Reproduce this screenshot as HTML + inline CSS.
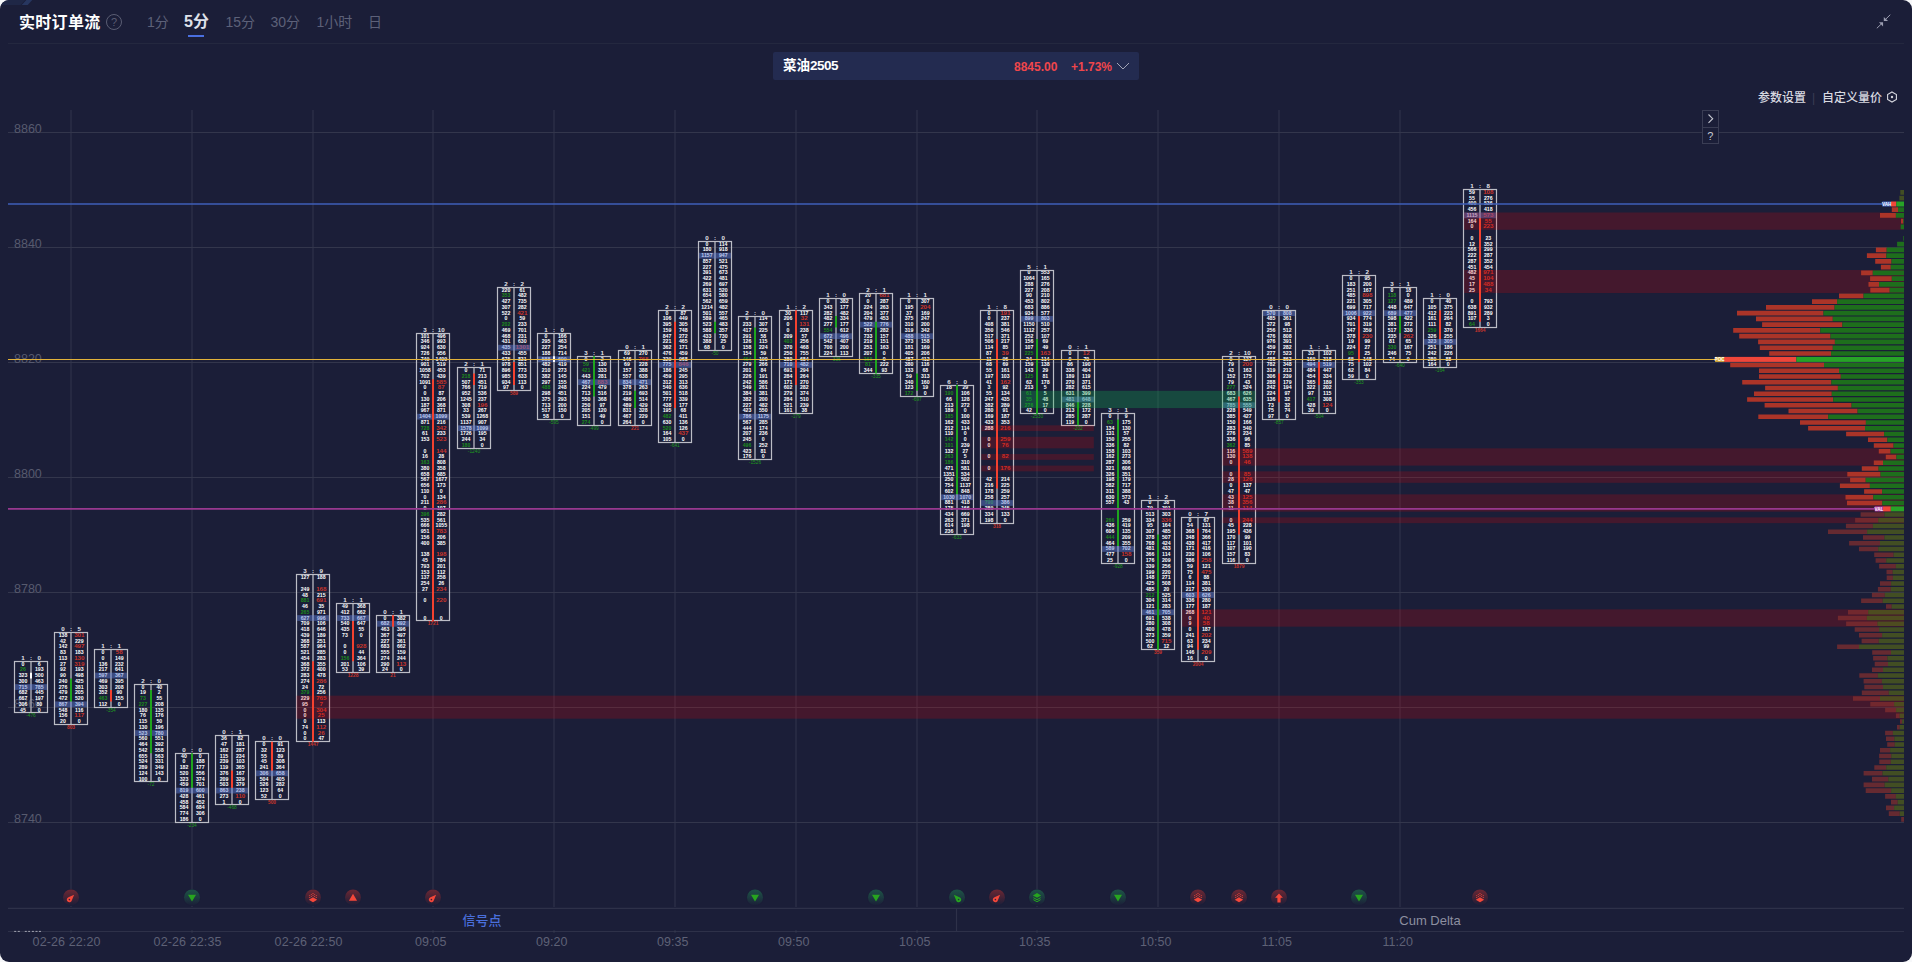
<!DOCTYPE html>
<html lang="zh-CN">
<head>
<meta charset="utf-8">
<title>实时订单流</title>
<style>
html,body{margin:0;padding:0;background:#f7f8fa;}
body{width:1912px;height:962px;overflow:hidden;font-family:"Liberation Sans","Noto Sans CJK SC",sans-serif;}
#app{position:relative;width:1912px;height:962px;background:#1b1e38;border-radius:9px;overflow:hidden;color:#fff;}
#deco{position:absolute;left:0;top:0;width:40px;height:5px;overflow:hidden;}
#deco i{position:absolute;left:-6px;top:0;width:29px;height:5px;background:#1f2746;transform:skewX(-42deg);}
#deco b{position:absolute;left:24.3px;top:0;width:5.5px;height:5px;background:#27365f;transform:skewX(-42deg);}
#head{position:absolute;left:8px;right:8px;top:0;height:43px;border-bottom:1px solid #24283f;}
#title{position:absolute;left:11px;top:11.5px;font-size:16px;font-weight:bold;line-height:22px;color:#fff;white-space:nowrap;letter-spacing:0.3px;}
#help{position:absolute;left:98px;top:14px;width:14px;height:14px;border:1px solid #5a5d73;border-radius:50%;color:#5a5d73;font-size:11px;line-height:14px;text-align:center;}
#tabs{position:absolute;left:139px;top:10px;height:24px;white-space:nowrap;font-size:14px;line-height:24px;color:#5d6179;}
#tabs span{position:absolute;top:0;}
#tabs .on{color:#dfe1ea;font-weight:bold;font-size:16px;}
#tabs .on:after{content:"";position:absolute;left:4px;right:5px;bottom:-2.5px;height:2px;background:#4a6fe0;}
#shrink{position:absolute;right:13px;top:13px;width:16px;height:16px;}
#sym{position:absolute;left:773px;top:52px;width:366px;height:28px;background:#232b50;border-radius:2px;}
#sym .nm{position:absolute;left:10px;top:0;line-height:27px;font-size:13.5px;font-weight:bold;color:#fff;}
#sym .nm b{letter-spacing:-0.5px;}
#sym .px{position:absolute;left:241px;top:0;line-height:30px;font-size:12px;font-weight:bold;color:#f0464b;}
#sym .pc{position:absolute;left:298px;top:0;line-height:30px;font-size:12px;font-weight:bold;color:#f0464b;}
#sym svg{position:absolute;left:343px;top:10px;}
#opts{position:absolute;right:14px;top:88.5px;height:18px;line-height:18px;font-size:12px;font-weight:500;color:#d8d9e0;white-space:nowrap;}
#opts span{position:absolute;top:0;}
#tools{position:absolute;left:1702px;top:110px;width:14.6px;height:31.6px;border:1px solid #3a3d54;background:#1b1e38;}
#tools div{height:16px;position:relative;}
#tools div+div{height:14.6px;}
#tools div+div{border-top:1px solid #3a3d54;}
#tools svg{position:absolute;left:0;top:0;}
#tools span{display:block;text-align:center;font-size:11px;line-height:16.5px;color:#c8c9d2;}
#chart{position:absolute;left:0;top:0;}
#chart text{font-family:"Liberation Sans",sans-serif;}
#chart .n{font-size:5.2px;font-weight:bold;fill:#fff;}
#chart .r{font-size:6.2px;font-weight:bold;fill:#e4e5ea;}
#chart .d{font-size:4.8px;}
#chart .n .r{fill:#c8352b;}
#chart .n .g{fill:#1d8a1d;}
#chart .d.r{fill:#c8352b;}
#chart .d.g{fill:#1f9a1f;}
#btabs{position:absolute;left:8px;top:909.5px;width:1896px;height:22px;font-size:13px;line-height:22px;}
#btabs div{position:absolute;top:0;width:948px;text-align:center;}
#btabs .a{left:0;color:#4a6fdc;font-weight:500;}
#btabs .b{left:948px;color:#8d8fa0;}
</style>
</head>
<body>
<div id="app">
<div id="deco"><i></i><b></b></div>
<div id="head">
<div id="title">实时订单流</div>
<div id="help">?</div>
<div id="tabs"><span style="left:0">1分</span><span class="on" style="left:37px">5分</span><span style="left:78.5px">15分</span><span style="left:123.5px">30分</span><span style="left:169.5px">1小时</span><span style="left:221px">日</span></div>
<svg id="shrink" viewBox="0 0 16 16"><g fill="#9b9db0" stroke="#9b9db0" stroke-width="1" stroke-linecap="round"><path d="M15 2L10.9 6" fill="none"/><path d="M8.8 3.9V8.05H13.1Z" stroke="none"/><path d="M2.1 15L6 11.3" fill="none"/><path d="M8.05 13.45V9.15H3.95Z" stroke="none"/></g></svg>
</div>
<div id="sym"><span class="nm">菜油<b>2505</b></span><span class="px">8845.00</span><span class="pc">+1.73%</span><svg width="14" height="8" viewBox="0 0 14 8"><path d="M1 1L7 7L13 1" fill="none" stroke="#a2a4b6" stroke-width="1"/></svg></div>
<div id="opts"><span style="right:92px">参数设置</span><span style="right:83px;color:#3a3d55;font-weight:normal">|</span><span style="right:16px">自定义量价</span><svg style="position:absolute;right:0;top:2.2px" width="12" height="12" viewBox="0 0 12 12"><path d="M6 0.9L10.4 3.45V8.55L6 11.1L1.6 8.55V3.45Z" fill="none" stroke="#d5d6de" stroke-width="1.1"/><circle cx="6" cy="6" r="1.2" fill="#d5d6de"/></svg></div>
<svg id="chart" width="1912" height="962" viewBox="0 0 1912 962">
<defs>
<linearGradient id="gr" x1="0" y1="0" x2="0" y2="1"><stop offset="0" stop-color="#6e2733"/><stop offset="0.5" stop-color="#6e2733" stop-opacity="0.5"/><stop offset="1" stop-color="#6e2733" stop-opacity="0"/></linearGradient>
<linearGradient id="gg" x1="0" y1="0" x2="0" y2="1"><stop offset="0" stop-color="#1d5446"/><stop offset="0.5" stop-color="#1d5446" stop-opacity="0.55"/><stop offset="1" stop-color="#1d5446" stop-opacity="0"/></linearGradient>
<path id="i-down" d="M-4 -2.7H4L0 4.2Z"/>
<path id="i-up" d="M-4.1 3.4H4.1L0 -3.6Z"/>
<path id="i-arrow" d="M0 -3.9L3.9 0.3H1.6V5H-1.6V0.3H-3.9Z"/>
<path id="i-meteor" fill-rule="evenodd" d="M3.1 -2.6L0.9 2.9A2.6 2.6 0 1 1 -2.5 -0.2Z M-1.6 1.4A0.8 0.8 0 1 0 -1.6 3A0.8 0.8 0 1 0 -1.6 1.4Z"/>
<g id="i-layers"><path d="M0 -0.1L4.2 2.3L0 4.8L-4.2 2.3Z"/><path d="M0 -4.35l0.95 0.55l-0.95 0.55l-0.95 -0.55ZM-1.6 -3.45l0.95 0.55l-0.95 0.55l-0.95 -0.55ZM1.6 -3.45l0.95 0.55l-0.95 0.55l-0.95 -0.55ZM0 -2.45l0.95 0.55l-0.95 0.55l-0.95 -0.55ZM-3.3 -2.45l0.95 0.55l-0.95 0.55l-0.95 -0.55ZM3.3 -2.45l0.95 0.55l-0.95 0.55l-0.95 -0.55ZM-1.6 -1.55l0.95 0.55l-0.95 0.55l-0.95 -0.55ZM1.6 -1.55l0.95 0.55l-0.95 0.55l-0.95 -0.55ZM-3.3 -0.55l0.95 0.55l-0.95 0.55l-0.95 -0.55ZM3.3 -0.55l0.95 0.55l-0.95 0.55l-0.95 -0.55Z" fill-opacity="0.85"/></g>
<g id="i-layers2"><path d="M0 -4.4L4.1 -2L0 0.4L-4.1 -2Z"/><path d="M-3.6 0.3L0 2.3L3.6 0.3M-3.6 2.3L0 4.3L3.6 2.3" fill="none" stroke="#27a51f" stroke-width="1" stroke-linejoin="round"/></g>
</defs>
<path d="M71 110V907M192 110V907M313 110V907M433 110V907M554 110V907M675 110V907M796 110V907M917 110V907M1037 110V907M1158 110V907M1279 110V907M1400 110V907" stroke="#262942" stroke-width="2" fill="none"/>
<path d="M8 132.5H1904M8 247.5H1904M8 362.5H1904M8 477.5H1904M8 592.5H1904M8 707.5H1904M8 822.5H1904" stroke="#33364c" stroke-width="1" fill="none"/>
<g id="yaxis" font-size="12.5" fill="#575a6e">
<text x="14" y="133">8860</text>
<text x="14" y="248">8840</text>
<text x="14" y="363">8820</text>
<text x="14" y="478">8800</text>
<text x="14" y="593">8780</text>
<text x="14" y="708">8760</text>
<text x="14" y="823">8740</text>
</g>
<path d="M8 908.3H1904M8 931.5H1904M956.5 908.3V931.5" stroke="#2e3149" stroke-width="1.2" fill="none"/>
<path d="M14.2 931.4h2M17.8 931.4h2M24.8 931.4h2M28.2 931.4h1.8M31.9 931.4h2M35.5 931.4h2M39 931.4h2" stroke="#c9cad3" stroke-width="0.9" stroke-opacity="0.85" fill="none"/>
<path d="M71 930.4V932.4M192 930.4V932.4M313 930.4V932.4M433 930.4V932.4M554 930.4V932.4M675 930.4V932.4M796 930.4V932.4M917 930.4V932.4M1037 930.4V932.4M1158 930.4V932.4M1279 930.4V932.4M1400 930.4V932.4" stroke="#34374e" stroke-width="1.6" fill="none"/>
<g id="xaxis" font-size="12.5" fill="#5e6176" text-anchor="middle">
<text x="66.6" y="946" letter-spacing="0.12">02-26 22:20</text>
<text x="187.6" y="946" letter-spacing="0.12">02-26 22:35</text>
<text x="308.6" y="946" letter-spacing="0.12">02-26 22:50</text>
<text x="430.7" y="946">09:05</text>
<text x="551.7" y="946">09:20</text>
<text x="672.7" y="946">09:35</text>
<text x="793.7" y="946">09:50</text>
<text x="914.7" y="946">10:05</text>
<text x="1034.7" y="946">10:35</text>
<text x="1155.7" y="946">10:50</text>
<text x="1276.7" y="946">11:05</text>
<text x="1397.7" y="946">11:20</text>
</g>
<g id="candles" text-anchor="middle">
<g><path d="M31 661.5V712.5" stroke="#9a9ba7" stroke-width="1.6"/><text class="n"><tspan x="23" y="665.85">0</tspan><tspan x="23" y="670.85" class="g">26</tspan><tspan x="23" y="676.85">323</tspan><tspan x="23" y="682.85">300</tspan><tspan x="23" y="688.85">715</tspan><tspan x="23" y="693.85">682</tspan><tspan x="23" y="699.85">667</tspan><tspan x="23" y="705.85">306</tspan><tspan x="23" y="711.85">45</tspan></text><text class="n"><tspan x="39.3" y="665.85">6</tspan><tspan x="39.3" y="670.85">193</tspan><tspan x="39.3" y="676.85">500</tspan><tspan x="39.3" y="682.85">463</tspan><tspan x="39.3" y="688.85">785</tspan><tspan x="39.3" y="693.85">445</tspan><tspan x="39.3" y="699.85">197</tspan><tspan x="39.3" y="705.85">80</tspan><tspan x="39.3" y="711.85">0</tspan></text><rect x="15.1" y="684.17" width="31.8" height="5.75" fill="#6482dc" fill-opacity="0.45"/><rect x="14.5" y="661.5" width="33" height="51" fill="none" stroke="#bcbdc6" stroke-width="1.2"/><text class="r"><tspan x="23" y="659.9">1</tspan><tspan x="31">:</tspan><tspan x="39.3">0</tspan></text></g>
<g><path d="M71 632.5V724.5" stroke="#9a9ba7" stroke-width="1.6"/><text class="n"><tspan x="63" y="636.85">138</tspan><tspan x="63" y="642.85">42</tspan><tspan x="63" y="647.85">142</tspan><tspan x="63" y="653.85">83</tspan><tspan x="63" y="659.85">113</tspan><tspan x="63" y="665.85">27</tspan><tspan x="63" y="670.85">92</tspan><tspan x="63" y="676.85">90</tspan><tspan x="63" y="682.85">240</tspan><tspan x="63" y="688.85">276</tspan><tspan x="63" y="693.85">479</tspan><tspan x="63" y="699.85">472</tspan><tspan x="63" y="705.85">867</tspan><tspan x="63" y="711.85">548</tspan><tspan x="63" y="716.85">156</tspan><tspan x="63" y="722.85">20</tspan></text><text class="n"><tspan x="79.3" y="636.85" class="r">301</tspan><tspan x="79.3" y="642.85">229</tspan><tspan x="79.3" y="647.85" class="r">497</tspan><tspan x="79.3" y="653.85">183</tspan><tspan x="79.3" y="659.85" class="r">130</tspan><tspan x="79.3" y="665.85" class="r">319</tspan><tspan x="79.3" y="670.85">193</tspan><tspan x="79.3" y="676.85">498</tspan><tspan x="79.3" y="682.85">425</tspan><tspan x="79.3" y="688.85">381</tspan><tspan x="79.3" y="693.85">205</tspan><tspan x="79.3" y="699.85">520</tspan><tspan x="79.3" y="705.85">394</tspan><tspan x="79.3" y="711.85">116</tspan><tspan x="79.3" y="716.85" class="r">117</tspan><tspan x="79.3" y="722.85">0</tspan></text><rect x="55.1" y="701.42" width="31.8" height="5.75" fill="#6482dc" fill-opacity="0.45"/><rect x="54.5" y="632.5" width="33" height="92" fill="none" stroke="#bcbdc6" stroke-width="1.2"/><text class="r"><tspan x="63" y="630.9">0</tspan><tspan x="71">:</tspan><tspan x="79.3">5</tspan></text></g>
<g><path d="M111 649.5V707.5" stroke="#9a9ba7" stroke-width="1.6"/><text class="n"><tspan x="103" y="653.85">0</tspan><tspan x="103" y="659.85">0</tspan><tspan x="103" y="665.85">136</tspan><tspan x="103" y="670.85">217</tspan><tspan x="103" y="676.85">597</tspan><tspan x="103" y="682.85">469</tspan><tspan x="103" y="688.85">303</tspan><tspan x="103" y="693.85">352</tspan><tspan x="103" y="699.85" class="g">463</tspan><tspan x="103" y="705.85">112</tspan></text><text class="n"><tspan x="119.3" y="653.85" class="r">58</tspan><tspan x="119.3" y="659.85">149</tspan><tspan x="119.3" y="665.85">232</tspan><tspan x="119.3" y="670.85">641</tspan><tspan x="119.3" y="676.85">367</tspan><tspan x="119.3" y="682.85">395</tspan><tspan x="119.3" y="688.85">208</tspan><tspan x="119.3" y="693.85">90</tspan><tspan x="119.3" y="699.85">155</tspan><tspan x="119.3" y="705.85">0</tspan></text><rect x="95.1" y="672.66" width="31.8" height="5.75" fill="#6482dc" fill-opacity="0.45"/><rect x="94.5" y="649.5" width="33" height="58" fill="none" stroke="#bcbdc6" stroke-width="1.2"/><text class="r"><tspan x="103" y="647.9">1</tspan><tspan x="111">:</tspan><tspan x="119.3">1</tspan></text></g>
<g><path d="M151 684.5V781.5" stroke="#9a9ba7" stroke-width="1.6"/><text class="n"><tspan x="143" y="688.85">0</tspan><tspan x="143" y="693.85">19</tspan><tspan x="143" y="699.85" class="g">73</tspan><tspan x="143" y="705.85" class="g">227</tspan><tspan x="143" y="711.85">180</tspan><tspan x="143" y="716.85">76</tspan><tspan x="143" y="722.85">115</tspan><tspan x="143" y="728.85">130</tspan><tspan x="143" y="734.85">523</tspan><tspan x="143" y="739.85">560</tspan><tspan x="143" y="745.85">464</tspan><tspan x="143" y="751.85">542</tspan><tspan x="143" y="757.85">655</tspan><tspan x="143" y="762.85">524</tspan><tspan x="143" y="768.85">289</tspan><tspan x="143" y="774.85">124</tspan><tspan x="143" y="780.85">100</tspan></text><text class="n"><tspan x="159.3" y="688.85">40</tspan><tspan x="159.3" y="693.85">2</tspan><tspan x="159.3" y="699.85">55</tspan><tspan x="159.3" y="705.85">208</tspan><tspan x="159.3" y="711.85">135</tspan><tspan x="159.3" y="716.85">176</tspan><tspan x="159.3" y="722.85">50</tspan><tspan x="159.3" y="728.85">196</tspan><tspan x="159.3" y="734.85">780</tspan><tspan x="159.3" y="739.85">551</tspan><tspan x="159.3" y="745.85">392</tspan><tspan x="159.3" y="751.85">558</tspan><tspan x="159.3" y="757.85">563</tspan><tspan x="159.3" y="762.85">331</tspan><tspan x="159.3" y="768.85">349</tspan><tspan x="159.3" y="774.85">143</tspan><tspan x="159.3" y="780.85">0</tspan></text><rect x="135.1" y="730.18" width="31.8" height="5.75" fill="#6482dc" fill-opacity="0.45"/><rect x="134.5" y="684.5" width="33" height="97" fill="none" stroke="#bcbdc6" stroke-width="1.2"/><text class="r"><tspan x="143" y="682.9">2</tspan><tspan x="151">:</tspan><tspan x="159.3">0</tspan></text></g>
<g><path d="M192 753.5V822.5" stroke="#9a9ba7" stroke-width="1.6"/><text class="n"><tspan x="184" y="757.85">40</tspan><tspan x="184" y="762.85">0</tspan><tspan x="184" y="768.85">182</tspan><tspan x="184" y="774.85">520</tspan><tspan x="184" y="780.85">323</tspan><tspan x="184" y="785.85">459</tspan><tspan x="184" y="791.85">819</tspan><tspan x="184" y="797.85">428</tspan><tspan x="184" y="803.85">458</tspan><tspan x="184" y="808.85">584</tspan><tspan x="184" y="814.85">774</tspan><tspan x="184" y="820.85">186</tspan></text><text class="n"><tspan x="200.3" y="757.85">0</tspan><tspan x="200.3" y="762.85">188</tspan><tspan x="200.3" y="768.85">177</tspan><tspan x="200.3" y="774.85">556</tspan><tspan x="200.3" y="780.85">374</tspan><tspan x="200.3" y="785.85">701</tspan><tspan x="200.3" y="791.85">600</tspan><tspan x="200.3" y="797.85">461</tspan><tspan x="200.3" y="803.85">452</tspan><tspan x="200.3" y="808.85">684</tspan><tspan x="200.3" y="814.85">306</tspan><tspan x="200.3" y="820.85">0</tspan></text><rect x="176.1" y="787.7" width="31.8" height="5.75" fill="#6482dc" fill-opacity="0.45"/><rect x="175.5" y="753.5" width="33" height="69" fill="none" stroke="#bcbdc6" stroke-width="1.2"/><text class="r"><tspan x="184" y="751.9">0</tspan><tspan x="192">:</tspan><tspan x="200.3">0</tspan></text></g>
<g><path d="M232 735.5V804.5" stroke="#9a9ba7" stroke-width="1.6"/><text class="n"><tspan x="224" y="739.85">36</tspan><tspan x="224" y="745.85">47</tspan><tspan x="224" y="751.85">162</tspan><tspan x="224" y="757.85">115</tspan><tspan x="224" y="762.85">239</tspan><tspan x="224" y="768.85">119</tspan><tspan x="224" y="774.85">376</tspan><tspan x="224" y="780.85">209</tspan><tspan x="224" y="785.85">503</tspan><tspan x="224" y="791.85">863</tspan><tspan x="224" y="797.85">273</tspan><tspan x="224" y="803.85">1</tspan></text><text class="n"><tspan x="240.3" y="739.85">82</tspan><tspan x="240.3" y="745.85">181</tspan><tspan x="240.3" y="751.85">287</tspan><tspan x="240.3" y="757.85">234</tspan><tspan x="240.3" y="762.85">103</tspan><tspan x="240.3" y="768.85">365</tspan><tspan x="240.3" y="774.85">167</tspan><tspan x="240.3" y="780.85">329</tspan><tspan x="240.3" y="785.85">379</tspan><tspan x="240.3" y="791.85">238</tspan><tspan x="240.3" y="797.85" class="r">110</tspan><tspan x="240.3" y="803.85">0</tspan></text><rect x="216.1" y="787.7" width="31.8" height="5.75" fill="#6482dc" fill-opacity="0.45"/><rect x="215.5" y="735.5" width="33" height="69" fill="none" stroke="#bcbdc6" stroke-width="1.2"/><text class="r"><tspan x="224" y="733.9">0</tspan><tspan x="232">:</tspan><tspan x="240.3">1</tspan></text></g>
<g><path d="M272 741.5V799.5" stroke="#9a9ba7" stroke-width="1.6"/><text class="n"><tspan x="264" y="745.85">0</tspan><tspan x="264" y="751.85">32</tspan><tspan x="264" y="757.85">55</tspan><tspan x="264" y="762.85">45</tspan><tspan x="264" y="768.85">241</tspan><tspan x="264" y="774.85">306</tspan><tspan x="264" y="780.85">504</tspan><tspan x="264" y="785.85">526</tspan><tspan x="264" y="791.85">123</tspan><tspan x="264" y="797.85">52</tspan></text><text class="n"><tspan x="280.3" y="745.85">91</tspan><tspan x="280.3" y="751.85">123</tspan><tspan x="280.3" y="757.85">89</tspan><tspan x="280.3" y="762.85">308</tspan><tspan x="280.3" y="768.85">364</tspan><tspan x="280.3" y="774.85">658</tspan><tspan x="280.3" y="780.85">405</tspan><tspan x="280.3" y="785.85">282</tspan><tspan x="280.3" y="791.85">64</tspan><tspan x="280.3" y="797.85">0</tspan></text><rect x="256.1" y="770.45" width="31.8" height="5.75" fill="#6482dc" fill-opacity="0.45"/><rect x="255.5" y="741.5" width="33" height="58" fill="none" stroke="#bcbdc6" stroke-width="1.2"/><text class="r"><tspan x="264" y="739.9">0</tspan><tspan x="272">:</tspan><tspan x="280.3">0</tspan></text></g>
<g><path d="M313 574.5V741.5" stroke="#9a9ba7" stroke-width="1.6"/><text class="n"><tspan x="305" y="578.85">127</tspan><tspan x="305" y="590.85">249</tspan><tspan x="305" y="596.85">48</tspan><tspan x="305" y="601.85" class="g">881</tspan><tspan x="305" y="607.85">46</tspan><tspan x="305" y="613.85" class="g">265</tspan><tspan x="305" y="619.85">627</tspan><tspan x="305" y="624.85">709</tspan><tspan x="305" y="630.85">418</tspan><tspan x="305" y="636.85">439</tspan><tspan x="305" y="642.85">368</tspan><tspan x="305" y="647.85">587</tspan><tspan x="305" y="653.85">521</tspan><tspan x="305" y="659.85">454</tspan><tspan x="305" y="665.85">368</tspan><tspan x="305" y="670.85">372</tspan><tspan x="305" y="676.85">283</tspan><tspan x="305" y="682.85">274</tspan><tspan x="305" y="688.85">24</tspan><tspan x="305" y="693.85" class="g">379</tspan><tspan x="305" y="699.85">229</tspan><tspan x="305" y="705.85">95</tspan><tspan x="305" y="711.85">0</tspan><tspan x="305" y="716.85">0</tspan><tspan x="305" y="722.85">0</tspan><tspan x="305" y="728.85">74</tspan><tspan x="305" y="734.85">0</tspan><tspan x="305" y="739.85">0</tspan></text><text class="n"><tspan x="321.3" y="578.85">188</tspan><tspan x="321.3" y="590.85" class="r">168</tspan><tspan x="321.3" y="596.85">215</tspan><tspan x="321.3" y="601.85" class="r">691</tspan><tspan x="321.3" y="607.85">35</tspan><tspan x="321.3" y="613.85">971</tspan><tspan x="321.3" y="619.85">996</tspan><tspan x="321.3" y="624.85">106</tspan><tspan x="321.3" y="630.85">646</tspan><tspan x="321.3" y="636.85">189</tspan><tspan x="321.3" y="642.85">251</tspan><tspan x="321.3" y="647.85">964</tspan><tspan x="321.3" y="653.85">285</tspan><tspan x="321.3" y="659.85">283</tspan><tspan x="321.3" y="665.85">355</tspan><tspan x="321.3" y="670.85">400</tspan><tspan x="321.3" y="676.85">478</tspan><tspan x="321.3" y="682.85" class="r">286</tspan><tspan x="321.3" y="688.85">72</tspan><tspan x="321.3" y="693.85">256</tspan><tspan x="321.3" y="699.85" class="r">765</tspan><tspan x="321.3" y="705.85" class="r">7</tspan><tspan x="321.3" y="711.85" class="r">304</tspan><tspan x="321.3" y="716.85" class="r">25</tspan><tspan x="321.3" y="722.85">113</tspan><tspan x="321.3" y="728.85" class="r">112</tspan><tspan x="321.3" y="734.85" class="r">26</tspan><tspan x="321.3" y="739.85">47</tspan></text><rect x="297.1" y="615.14" width="31.8" height="5.75" fill="#6482dc" fill-opacity="0.45"/><rect x="296.5" y="574.5" width="33" height="167" fill="none" stroke="#bcbdc6" stroke-width="1.2"/><text class="r"><tspan x="305" y="572.9">3</tspan><tspan x="313">:</tspan><tspan x="321.3">9</tspan></text></g>
<g><path d="M353 603.5V672.5" stroke="#9a9ba7" stroke-width="1.6"/><text class="n"><tspan x="345" y="607.85">49</tspan><tspan x="345" y="613.85">412</tspan><tspan x="345" y="619.85">733</tspan><tspan x="345" y="624.85">540</tspan><tspan x="345" y="630.85">435</tspan><tspan x="345" y="636.85">73</tspan><tspan x="345" y="647.85">0</tspan><tspan x="345" y="653.85">0</tspan><tspan x="345" y="659.85" class="g">156</tspan><tspan x="345" y="665.85">201</tspan><tspan x="345" y="670.85">53</tspan></text><text class="n"><tspan x="361.3" y="607.85">368</tspan><tspan x="361.3" y="613.85">662</tspan><tspan x="361.3" y="619.85">667</tspan><tspan x="361.3" y="624.85">647</tspan><tspan x="361.3" y="630.85">55</tspan><tspan x="361.3" y="636.85">0</tspan><tspan x="361.3" y="647.85" class="r">928</tspan><tspan x="361.3" y="653.85">44</tspan><tspan x="361.3" y="659.85">364</tspan><tspan x="361.3" y="665.85">106</tspan><tspan x="361.3" y="670.85">39</tspan></text><rect x="337.1" y="615.14" width="31.8" height="5.75" fill="#6482dc" fill-opacity="0.45"/><rect x="336.5" y="603.5" width="33" height="69" fill="none" stroke="#bcbdc6" stroke-width="1.2"/><text class="r"><tspan x="345" y="601.9">1</tspan><tspan x="353">:</tspan><tspan x="361.3">1</tspan></text></g>
<g><path d="M393 615.5V672.5" stroke="#9a9ba7" stroke-width="1.6"/><text class="n"><tspan x="385" y="619.85">0</tspan><tspan x="385" y="624.85">682</tspan><tspan x="385" y="630.85">463</tspan><tspan x="385" y="636.85">367</tspan><tspan x="385" y="642.85">227</tspan><tspan x="385" y="647.85">683</tspan><tspan x="385" y="653.85">555</tspan><tspan x="385" y="659.85">274</tspan><tspan x="385" y="665.85">290</tspan><tspan x="385" y="670.85">24</tspan></text><text class="n"><tspan x="401.3" y="619.85">382</tspan><tspan x="401.3" y="624.85">692</tspan><tspan x="401.3" y="630.85">396</tspan><tspan x="401.3" y="636.85">497</tspan><tspan x="401.3" y="642.85">361</tspan><tspan x="401.3" y="647.85">662</tspan><tspan x="401.3" y="653.85">159</tspan><tspan x="401.3" y="659.85">244</tspan><tspan x="401.3" y="665.85" class="r">113</tspan><tspan x="401.3" y="670.85">0</tspan></text><rect x="377.1" y="620.9" width="31.8" height="5.75" fill="#6482dc" fill-opacity="0.45"/><rect x="376.5" y="615.5" width="33" height="57" fill="none" stroke="#bcbdc6" stroke-width="1.2"/><text class="r"><tspan x="385" y="613.9">0</tspan><tspan x="393">:</tspan><tspan x="401.3">1</tspan></text></g>
<g><path d="M433 333.5V620.5" stroke="#9a9ba7" stroke-width="1.6"/><text class="n"><tspan x="425" y="337.85">101</tspan><tspan x="425" y="342.85">346</tspan><tspan x="425" y="348.85">924</tspan><tspan x="425" y="354.85">726</tspan><tspan x="425" y="360.85">749</tspan><tspan x="425" y="365.85">901</tspan><tspan x="425" y="371.85">1058</tspan><tspan x="425" y="377.85">702</tspan><tspan x="425" y="383.85">1091</tspan><tspan x="425" y="388.85">0</tspan><tspan x="425" y="394.85">0</tspan><tspan x="425" y="400.85">130</tspan><tspan x="425" y="406.85">187</tspan><tspan x="425" y="411.85">967</tspan><tspan x="425" y="417.85">1404</tspan><tspan x="425" y="423.85">871</tspan><tspan x="425" y="429.85" class="g">728</tspan><tspan x="425" y="434.85">61</tspan><tspan x="425" y="440.85">153</tspan><tspan x="425" y="452.85">0</tspan><tspan x="425" y="457.85">16</tspan><tspan x="425" y="463.85" class="g">163</tspan><tspan x="425" y="469.85">380</tspan><tspan x="425" y="475.85">658</tspan><tspan x="425" y="480.85">567</tspan><tspan x="425" y="486.85">656</tspan><tspan x="425" y="492.85">110</tspan><tspan x="425" y="498.85">0</tspan><tspan x="425" y="503.85">211</tspan><tspan x="425" y="509.85">0</tspan><tspan x="425" y="515.85" class="g">396</tspan><tspan x="425" y="521.85">535</tspan><tspan x="425" y="526.85">666</tspan><tspan x="425" y="532.85">951</tspan><tspan x="425" y="538.85">156</tspan><tspan x="425" y="544.85">400</tspan><tspan x="425" y="555.85">138</tspan><tspan x="425" y="561.85">45</tspan><tspan x="425" y="567.85">793</tspan><tspan x="425" y="573.85">153</tspan><tspan x="425" y="578.85">137</tspan><tspan x="425" y="584.85">254</tspan><tspan x="425" y="590.85">27</tspan><tspan x="425" y="601.85">0</tspan><tspan x="425" y="619.85">0</tspan></text><text class="n"><tspan x="441.3" y="337.85">496</tspan><tspan x="441.3" y="342.85">993</tspan><tspan x="441.3" y="348.85">630</tspan><tspan x="441.3" y="354.85">956</tspan><tspan x="441.3" y="360.85">1409</tspan><tspan x="441.3" y="365.85">519</tspan><tspan x="441.3" y="371.85">453</tspan><tspan x="441.3" y="377.85">439</tspan><tspan x="441.3" y="383.85" class="r">585</tspan><tspan x="441.3" y="388.85" class="r">87</tspan><tspan x="441.3" y="394.85">87</tspan><tspan x="441.3" y="400.85">206</tspan><tspan x="441.3" y="406.85">368</tspan><tspan x="441.3" y="411.85">871</tspan><tspan x="441.3" y="417.85">1099</tspan><tspan x="441.3" y="423.85">216</tspan><tspan x="441.3" y="429.85" class="r">342</tspan><tspan x="441.3" y="434.85">233</tspan><tspan x="441.3" y="440.85" class="r">523</tspan><tspan x="441.3" y="452.85" class="r">144</tspan><tspan x="441.3" y="457.85">28</tspan><tspan x="441.3" y="463.85">808</tspan><tspan x="441.3" y="469.85">358</tspan><tspan x="441.3" y="475.85">685</tspan><tspan x="441.3" y="480.85">1677</tspan><tspan x="441.3" y="486.85">173</tspan><tspan x="441.3" y="492.85">0</tspan><tspan x="441.3" y="498.85">134</tspan><tspan x="441.3" y="503.85" class="r">286</tspan><tspan x="441.3" y="509.85">107</tspan><tspan x="441.3" y="515.85">282</tspan><tspan x="441.3" y="521.85">561</tspan><tspan x="441.3" y="526.85">1055</tspan><tspan x="441.3" y="532.85" class="r">783</tspan><tspan x="441.3" y="538.85">206</tspan><tspan x="441.3" y="544.85">385</tspan><tspan x="441.3" y="555.85" class="r">198</tspan><tspan x="441.3" y="561.85">784</tspan><tspan x="441.3" y="567.85">201</tspan><tspan x="441.3" y="573.85">112</tspan><tspan x="441.3" y="578.85">258</tspan><tspan x="441.3" y="584.85">26</tspan><tspan x="441.3" y="590.85" class="r">234</tspan><tspan x="441.3" y="601.85" class="r">220</tspan><tspan x="441.3" y="619.85">0</tspan></text><rect x="417.1" y="413.82" width="31.8" height="5.75" fill="#6482dc" fill-opacity="0.45"/><rect x="416.5" y="333.5" width="33" height="287" fill="none" stroke="#bcbdc6" stroke-width="1.2"/><text class="r"><tspan x="425" y="331.9">3</tspan><tspan x="433">:</tspan><tspan x="441.3">10</tspan></text></g>
<g><path d="M474 367.5V448.5" stroke="#9a9ba7" stroke-width="1.6"/><text class="n"><tspan x="466" y="371.85">0</tspan><tspan x="466" y="377.85" class="g">218</tspan><tspan x="466" y="383.85">507</tspan><tspan x="466" y="388.85">766</tspan><tspan x="466" y="394.85">952</tspan><tspan x="466" y="400.85">1245</tspan><tspan x="466" y="406.85">308</tspan><tspan x="466" y="411.85">33</tspan><tspan x="466" y="417.85">539</tspan><tspan x="466" y="423.85">1137</tspan><tspan x="466" y="429.85">1578</tspan><tspan x="466" y="434.85">1726</tspan><tspan x="466" y="440.85">244</tspan><tspan x="466" y="446.85" class="g">180</tspan></text><text class="n"><tspan x="482.3" y="371.85">71</tspan><tspan x="482.3" y="377.85">213</tspan><tspan x="482.3" y="383.85">451</tspan><tspan x="482.3" y="388.85">719</tspan><tspan x="482.3" y="394.85">536</tspan><tspan x="482.3" y="400.85">237</tspan><tspan x="482.3" y="406.85" class="r">196</tspan><tspan x="482.3" y="411.85">267</tspan><tspan x="482.3" y="417.85">1268</tspan><tspan x="482.3" y="423.85">907</tspan><tspan x="482.3" y="429.85">1099</tspan><tspan x="482.3" y="434.85">195</tspan><tspan x="482.3" y="440.85">34</tspan><tspan x="482.3" y="446.85">0</tspan></text><rect x="458.1" y="425.33" width="31.8" height="5.75" fill="#6482dc" fill-opacity="0.45"/><rect x="457.5" y="367.5" width="33" height="81" fill="none" stroke="#bcbdc6" stroke-width="1.2"/><text class="r"><tspan x="466" y="365.9">2</tspan><tspan x="474">:</tspan><tspan x="482.3">1</tspan></text></g>
<g><path d="M514 287.5V390.5" stroke="#9a9ba7" stroke-width="1.6"/><text class="n"><tspan x="506" y="291.85">220</tspan><tspan x="506" y="296.85" class="g">353</tspan><tspan x="506" y="302.85">427</tspan><tspan x="506" y="308.85">307</tspan><tspan x="506" y="314.85">522</tspan><tspan x="506" y="319.85">0</tspan><tspan x="506" y="325.85" class="g">202</tspan><tspan x="506" y="331.85">469</tspan><tspan x="506" y="337.85">468</tspan><tspan x="506" y="342.85">431</tspan><tspan x="506" y="348.85">435</tspan><tspan x="506" y="354.85">433</tspan><tspan x="506" y="360.85">675</tspan><tspan x="506" y="365.85">978</tspan><tspan x="506" y="371.85">896</tspan><tspan x="506" y="377.85">985</tspan><tspan x="506" y="383.85">934</tspan><tspan x="506" y="388.85">97</tspan></text><text class="n"><tspan x="522.3" y="291.85">61</tspan><tspan x="522.3" y="296.85">482</tspan><tspan x="522.3" y="302.85">735</tspan><tspan x="522.3" y="308.85">282</tspan><tspan x="522.3" y="314.85" class="r">421</tspan><tspan x="522.3" y="319.85">59</tspan><tspan x="522.3" y="325.85">233</tspan><tspan x="522.3" y="331.85">701</tspan><tspan x="522.3" y="337.85">231</tspan><tspan x="522.3" y="342.85">630</tspan><tspan x="522.3" y="348.85" class="r">1301</tspan><tspan x="522.3" y="354.85">455</tspan><tspan x="522.3" y="360.85">831</tspan><tspan x="522.3" y="365.85">851</tspan><tspan x="522.3" y="371.85">773</tspan><tspan x="522.3" y="377.85">633</tspan><tspan x="522.3" y="383.85">113</tspan><tspan x="522.3" y="388.85">0</tspan></text><rect x="498.1" y="344.8" width="31.8" height="5.75" fill="#6482dc" fill-opacity="0.45"/><rect x="497.5" y="287.5" width="33" height="103" fill="none" stroke="#bcbdc6" stroke-width="1.2"/><text class="r"><tspan x="506" y="285.9">2</tspan><tspan x="514">:</tspan><tspan x="522.3">2</tspan></text></g>
<g><path d="M554 333.5V419.5" stroke="#9a9ba7" stroke-width="1.6"/><text class="n"><tspan x="546" y="337.85">0</tspan><tspan x="546" y="342.85">295</tspan><tspan x="546" y="348.85">227</tspan><tspan x="546" y="354.85">188</tspan><tspan x="546" y="360.85">588</tspan><tspan x="546" y="365.85">482</tspan><tspan x="546" y="371.85">210</tspan><tspan x="546" y="377.85">382</tspan><tspan x="546" y="383.85">297</tspan><tspan x="546" y="388.85" class="g">488</tspan><tspan x="546" y="394.85">298</tspan><tspan x="546" y="400.85">375</tspan><tspan x="546" y="406.85">713</tspan><tspan x="546" y="411.85">517</tspan><tspan x="546" y="417.85">58</tspan></text><text class="n"><tspan x="562.3" y="337.85">166</tspan><tspan x="562.3" y="342.85">463</tspan><tspan x="562.3" y="348.85">254</tspan><tspan x="562.3" y="354.85">714</tspan><tspan x="562.3" y="360.85">609</tspan><tspan x="562.3" y="365.85">419</tspan><tspan x="562.3" y="371.85">273</tspan><tspan x="562.3" y="377.85">145</tspan><tspan x="562.3" y="383.85">155</tspan><tspan x="562.3" y="388.85">248</tspan><tspan x="562.3" y="394.85">451</tspan><tspan x="562.3" y="400.85">293</tspan><tspan x="562.3" y="406.85">200</tspan><tspan x="562.3" y="411.85">150</tspan><tspan x="562.3" y="417.85">0</tspan></text><rect x="538.1" y="356.3" width="31.8" height="5.75" fill="#6482dc" fill-opacity="0.45"/><rect x="537.5" y="333.5" width="33" height="86" fill="none" stroke="#bcbdc6" stroke-width="1.2"/><text class="r"><tspan x="546" y="331.9">1</tspan><tspan x="554">:</tspan><tspan x="562.3">0</tspan></text></g>
<g><path d="M594 356.5V425.5" stroke="#9a9ba7" stroke-width="1.6"/><text class="n"><tspan x="586" y="360.85">0</tspan><tspan x="586" y="365.85" class="g">59</tspan><tspan x="586" y="371.85" class="g">421</tspan><tspan x="586" y="377.85">443</tspan><tspan x="586" y="383.85">467</tspan><tspan x="586" y="388.85">224</tspan><tspan x="586" y="394.85">713</tspan><tspan x="586" y="400.85">550</tspan><tspan x="586" y="406.85">250</tspan><tspan x="586" y="411.85">205</tspan><tspan x="586" y="417.85">151</tspan><tspan x="586" y="423.85" class="g">274</tspan></text><text class="n"><tspan x="602.3" y="360.85">2</tspan><tspan x="602.3" y="365.85">130</tspan><tspan x="602.3" y="371.85">333</tspan><tspan x="602.3" y="377.85">281</tspan><tspan x="602.3" y="383.85" class="r">883</tspan><tspan x="602.3" y="388.85">479</tspan><tspan x="602.3" y="394.85">516</tspan><tspan x="602.3" y="400.85">368</tspan><tspan x="602.3" y="406.85">97</tspan><tspan x="602.3" y="411.85">120</tspan><tspan x="602.3" y="417.85">49</tspan><tspan x="602.3" y="423.85">0</tspan></text><rect x="578.1" y="379.31" width="31.8" height="5.75" fill="#6482dc" fill-opacity="0.45"/><rect x="577.5" y="356.5" width="33" height="69" fill="none" stroke="#bcbdc6" stroke-width="1.2"/><text class="r"><tspan x="586" y="354.9">3</tspan><tspan x="594">:</tspan><tspan x="602.3">1</tspan></text></g>
<g><path d="M635 350.5V425.5" stroke="#9a9ba7" stroke-width="1.6"/><text class="n"><tspan x="627" y="354.85">69</tspan><tspan x="627" y="360.85">146</tspan><tspan x="627" y="365.85">69</tspan><tspan x="627" y="371.85">157</tspan><tspan x="627" y="377.85">557</tspan><tspan x="627" y="383.85">834</tspan><tspan x="627" y="388.85">378</tspan><tspan x="627" y="394.85">219</tspan><tspan x="627" y="400.85">486</tspan><tspan x="627" y="406.85">489</tspan><tspan x="627" y="411.85">831</tspan><tspan x="627" y="417.85">467</tspan><tspan x="627" y="423.85">264</tspan></text><text class="n"><tspan x="643.3" y="354.85">270</tspan><tspan x="643.3" y="360.85" class="r">768</tspan><tspan x="643.3" y="365.85">228</tspan><tspan x="643.3" y="371.85">388</tspan><tspan x="643.3" y="377.85">638</tspan><tspan x="643.3" y="383.85">471</tspan><tspan x="643.3" y="388.85">263</tspan><tspan x="643.3" y="394.85">693</tspan><tspan x="643.3" y="400.85">514</tspan><tspan x="643.3" y="406.85">429</tspan><tspan x="643.3" y="411.85">328</tspan><tspan x="643.3" y="417.85">229</tspan><tspan x="643.3" y="423.85">0</tspan></text><rect x="619.1" y="379.31" width="31.8" height="5.75" fill="#6482dc" fill-opacity="0.45"/><rect x="618.5" y="350.5" width="33" height="75" fill="none" stroke="#bcbdc6" stroke-width="1.2"/><text class="r"><tspan x="627" y="348.9">0</tspan><tspan x="635">:</tspan><tspan x="643.3">1</tspan></text></g>
<g><path d="M675 310.5V442.5" stroke="#9a9ba7" stroke-width="1.6"/><text class="n"><tspan x="667" y="314.85">0</tspan><tspan x="667" y="319.85">106</tspan><tspan x="667" y="325.85">395</tspan><tspan x="667" y="331.85">159</tspan><tspan x="667" y="337.85">847</tspan><tspan x="667" y="342.85">221</tspan><tspan x="667" y="348.85">362</tspan><tspan x="667" y="354.85">476</tspan><tspan x="667" y="360.85">329</tspan><tspan x="667" y="365.85">775</tspan><tspan x="667" y="371.85">186</tspan><tspan x="667" y="377.85">459</tspan><tspan x="667" y="383.85">312</tspan><tspan x="667" y="388.85">540</tspan><tspan x="667" y="394.85">501</tspan><tspan x="667" y="400.85">777</tspan><tspan x="667" y="406.85">438</tspan><tspan x="667" y="411.85">195</tspan><tspan x="667" y="417.85" class="g">482</tspan><tspan x="667" y="423.85">630</tspan><tspan x="667" y="429.85" class="g">520</tspan><tspan x="667" y="434.85">164</tspan><tspan x="667" y="440.85">105</tspan></text><text class="n"><tspan x="683.3" y="314.85">87</tspan><tspan x="683.3" y="319.85">449</tspan><tspan x="683.3" y="325.85">305</tspan><tspan x="683.3" y="331.85">748</tspan><tspan x="683.3" y="337.85">272</tspan><tspan x="683.3" y="342.85">465</tspan><tspan x="683.3" y="348.85">171</tspan><tspan x="683.3" y="354.85">459</tspan><tspan x="683.3" y="360.85">968</tspan><tspan x="683.3" y="365.85" class="r">846</tspan><tspan x="683.3" y="371.85">245</tspan><tspan x="683.3" y="377.85">295</tspan><tspan x="683.3" y="383.85">313</tspan><tspan x="683.3" y="388.85">636</tspan><tspan x="683.3" y="394.85">518</tspan><tspan x="683.3" y="400.85">339</tspan><tspan x="683.3" y="406.85">177</tspan><tspan x="683.3" y="411.85">68</tspan><tspan x="683.3" y="417.85">411</tspan><tspan x="683.3" y="423.85">136</tspan><tspan x="683.3" y="429.85">126</tspan><tspan x="683.3" y="434.85" class="r">437</tspan><tspan x="683.3" y="440.85">0</tspan></text><rect x="659.1" y="362.06" width="31.8" height="5.75" fill="#6482dc" fill-opacity="0.45"/><rect x="658.5" y="310.5" width="33" height="132" fill="none" stroke="#bcbdc6" stroke-width="1.2"/><text class="r"><tspan x="667" y="308.9">2</tspan><tspan x="675">:</tspan><tspan x="683.3">2</tspan></text></g>
<g><path d="M715 241.5V350.5" stroke="#9a9ba7" stroke-width="1.6"/><text class="n"><tspan x="707" y="245.85">0</tspan><tspan x="707" y="250.85">180</tspan><tspan x="707" y="256.85">1157</tspan><tspan x="707" y="262.85">857</tspan><tspan x="707" y="268.85">227</tspan><tspan x="707" y="273.85">391</tspan><tspan x="707" y="279.85">422</tspan><tspan x="707" y="285.85">269</tspan><tspan x="707" y="291.85">631</tspan><tspan x="707" y="296.85">654</tspan><tspan x="707" y="302.85">562</tspan><tspan x="707" y="308.85">1214</tspan><tspan x="707" y="314.85">501</tspan><tspan x="707" y="319.85">589</tspan><tspan x="707" y="325.85">523</tspan><tspan x="707" y="331.85">588</tspan><tspan x="707" y="337.85">433</tspan><tspan x="707" y="342.85">388</tspan><tspan x="707" y="348.85">68</tspan></text><text class="n"><tspan x="723.3" y="245.85">114</tspan><tspan x="723.3" y="250.85">918</tspan><tspan x="723.3" y="256.85">947</tspan><tspan x="723.3" y="262.85">521</tspan><tspan x="723.3" y="268.85">475</tspan><tspan x="723.3" y="273.85">673</tspan><tspan x="723.3" y="279.85">481</tspan><tspan x="723.3" y="285.85">697</tspan><tspan x="723.3" y="291.85">520</tspan><tspan x="723.3" y="296.85">580</tspan><tspan x="723.3" y="302.85">659</tspan><tspan x="723.3" y="308.85">482</tspan><tspan x="723.3" y="314.85">557</tspan><tspan x="723.3" y="319.85">465</tspan><tspan x="723.3" y="325.85">483</tspan><tspan x="723.3" y="331.85">357</tspan><tspan x="723.3" y="337.85">730</tspan><tspan x="723.3" y="342.85">25</tspan><tspan x="723.3" y="348.85">0</tspan></text><rect x="699.1" y="252.77" width="31.8" height="5.75" fill="#6482dc" fill-opacity="0.45"/><rect x="698.5" y="241.5" width="33" height="109" fill="none" stroke="#bcbdc6" stroke-width="1.2"/><text class="r"><tspan x="707" y="239.9">0</tspan><tspan x="715">:</tspan><tspan x="723.3">0</tspan></text></g>
<g><path d="M755 316.5V459.5" stroke="#9a9ba7" stroke-width="1.6"/><text class="n"><tspan x="747" y="319.85">0</tspan><tspan x="747" y="325.85">233</tspan><tspan x="747" y="331.85">417</tspan><tspan x="747" y="337.85">291</tspan><tspan x="747" y="342.85">126</tspan><tspan x="747" y="348.85">158</tspan><tspan x="747" y="354.85">154</tspan><tspan x="747" y="360.85" class="g">464</tspan><tspan x="747" y="365.85">279</tspan><tspan x="747" y="371.85">201</tspan><tspan x="747" y="377.85">226</tspan><tspan x="747" y="383.85">242</tspan><tspan x="747" y="388.85">549</tspan><tspan x="747" y="394.85">384</tspan><tspan x="747" y="400.85">382</tspan><tspan x="747" y="406.85">227</tspan><tspan x="747" y="411.85">423</tspan><tspan x="747" y="417.85">786</tspan><tspan x="747" y="423.85">567</tspan><tspan x="747" y="429.85">444</tspan><tspan x="747" y="434.85">207</tspan><tspan x="747" y="440.85">245</tspan><tspan x="747" y="446.85" class="g">496</tspan><tspan x="747" y="452.85">423</tspan><tspan x="747" y="457.85">176</tspan></text><text class="n"><tspan x="763.3" y="319.85">114</tspan><tspan x="763.3" y="325.85">307</tspan><tspan x="763.3" y="331.85">225</tspan><tspan x="763.3" y="337.85">58</tspan><tspan x="763.3" y="342.85">115</tspan><tspan x="763.3" y="348.85">224</tspan><tspan x="763.3" y="354.85">59</tspan><tspan x="763.3" y="360.85">190</tspan><tspan x="763.3" y="365.85">266</tspan><tspan x="763.3" y="371.85">84</tspan><tspan x="763.3" y="377.85">191</tspan><tspan x="763.3" y="383.85">586</tspan><tspan x="763.3" y="388.85">261</tspan><tspan x="763.3" y="394.85">381</tspan><tspan x="763.3" y="400.85">200</tspan><tspan x="763.3" y="406.85">482</tspan><tspan x="763.3" y="411.85">550</tspan><tspan x="763.3" y="417.85">1175</tspan><tspan x="763.3" y="423.85">285</tspan><tspan x="763.3" y="429.85">174</tspan><tspan x="763.3" y="434.85">236</tspan><tspan x="763.3" y="440.85">0</tspan><tspan x="763.3" y="446.85">252</tspan><tspan x="763.3" y="452.85">81</tspan><tspan x="763.3" y="457.85">0</tspan></text><rect x="739.1" y="413.82" width="31.8" height="5.75" fill="#6482dc" fill-opacity="0.45"/><rect x="738.5" y="316.5" width="33" height="143" fill="none" stroke="#bcbdc6" stroke-width="1.2"/><text class="r"><tspan x="747" y="314.9">2</tspan><tspan x="755">:</tspan><tspan x="763.3">0</tspan></text></g>
<g><path d="M796 310.5V413.5" stroke="#9a9ba7" stroke-width="1.6"/><text class="n"><tspan x="788" y="314.85">30</tspan><tspan x="788" y="319.85">206</tspan><tspan x="788" y="325.85">0</tspan><tspan x="788" y="331.85">0</tspan><tspan x="788" y="337.85">209</tspan><tspan x="788" y="342.85" class="g">403</tspan><tspan x="788" y="348.85">370</tspan><tspan x="788" y="354.85">250</tspan><tspan x="788" y="360.85">380</tspan><tspan x="788" y="365.85">710</tspan><tspan x="788" y="371.85">691</tspan><tspan x="788" y="377.85">284</tspan><tspan x="788" y="383.85">171</tspan><tspan x="788" y="388.85">602</tspan><tspan x="788" y="394.85">279</tspan><tspan x="788" y="400.85">284</tspan><tspan x="788" y="406.85">521</tspan><tspan x="788" y="411.85">161</tspan></text><text class="n"><tspan x="804.3" y="314.85">117</tspan><tspan x="804.3" y="319.85" class="r">32</tspan><tspan x="804.3" y="325.85" class="r">131</tspan><tspan x="804.3" y="331.85">238</tspan><tspan x="804.3" y="337.85">57</tspan><tspan x="804.3" y="342.85">256</tspan><tspan x="804.3" y="348.85">468</tspan><tspan x="804.3" y="354.85">755</tspan><tspan x="804.3" y="360.85">684</tspan><tspan x="804.3" y="365.85">482</tspan><tspan x="804.3" y="371.85">294</tspan><tspan x="804.3" y="377.85">264</tspan><tspan x="804.3" y="383.85">270</tspan><tspan x="804.3" y="388.85">282</tspan><tspan x="804.3" y="394.85">374</tspan><tspan x="804.3" y="400.85">510</tspan><tspan x="804.3" y="406.85">239</tspan><tspan x="804.3" y="411.85">38</tspan></text><rect x="780.1" y="362.06" width="31.8" height="5.75" fill="#6482dc" fill-opacity="0.45"/><rect x="779.5" y="310.5" width="33" height="103" fill="none" stroke="#bcbdc6" stroke-width="1.2"/><text class="r"><tspan x="788" y="308.9">1</tspan><tspan x="796">:</tspan><tspan x="804.3">2</tspan></text></g>
<g><path d="M836 298.5V356.5" stroke="#9a9ba7" stroke-width="1.6"/><text class="n"><tspan x="828" y="302.85">0</tspan><tspan x="828" y="308.85">343</tspan><tspan x="828" y="314.85">282</tspan><tspan x="828" y="319.85">482</tspan><tspan x="828" y="325.85">277</tspan><tspan x="828" y="331.85" class="g">554</tspan><tspan x="828" y="337.85">672</tspan><tspan x="828" y="342.85">542</tspan><tspan x="828" y="348.85">700</tspan><tspan x="828" y="354.85">224</tspan></text><text class="n"><tspan x="844.3" y="302.85">382</tspan><tspan x="844.3" y="308.85">177</tspan><tspan x="844.3" y="314.85">482</tspan><tspan x="844.3" y="319.85">334</tspan><tspan x="844.3" y="325.85">177</tspan><tspan x="844.3" y="331.85">612</tspan><tspan x="844.3" y="337.85">496</tspan><tspan x="844.3" y="342.85">407</tspan><tspan x="844.3" y="348.85">200</tspan><tspan x="844.3" y="354.85">113</tspan></text><rect x="820.1" y="333.3" width="31.8" height="5.75" fill="#6482dc" fill-opacity="0.45"/><rect x="819.5" y="298.5" width="33" height="58" fill="none" stroke="#bcbdc6" stroke-width="1.2"/><text class="r"><tspan x="828" y="296.9">1</tspan><tspan x="836">:</tspan><tspan x="844.3">0</tspan></text></g>
<g><path d="M876 293.5V373.5" stroke="#9a9ba7" stroke-width="1.6"/><text class="n"><tspan x="868" y="296.85">20</tspan><tspan x="868" y="302.85">0</tspan><tspan x="868" y="308.85">224</tspan><tspan x="868" y="314.85">204</tspan><tspan x="868" y="319.85">479</tspan><tspan x="868" y="325.85">522</tspan><tspan x="868" y="331.85">787</tspan><tspan x="868" y="337.85">733</tspan><tspan x="868" y="342.85">219</tspan><tspan x="868" y="348.85">251</tspan><tspan x="868" y="354.85">207</tspan><tspan x="868" y="360.85" class="g">168</tspan><tspan x="868" y="365.85" class="g">81</tspan><tspan x="868" y="371.85">344</tspan></text><text class="n"><tspan x="884.3" y="296.85" class="r">681</tspan><tspan x="884.3" y="302.85">287</tspan><tspan x="884.3" y="308.85">263</tspan><tspan x="884.3" y="314.85">377</tspan><tspan x="884.3" y="319.85">453</tspan><tspan x="884.3" y="325.85">776</tspan><tspan x="884.3" y="331.85">282</tspan><tspan x="884.3" y="337.85">157</tspan><tspan x="884.3" y="342.85">151</tspan><tspan x="884.3" y="348.85">163</tspan><tspan x="884.3" y="354.85">0</tspan><tspan x="884.3" y="360.85">0</tspan><tspan x="884.3" y="365.85">222</tspan><tspan x="884.3" y="371.85">93</tspan></text><rect x="860.1" y="321.79" width="31.8" height="5.75" fill="#6482dc" fill-opacity="0.45"/><rect x="859.5" y="293.5" width="33" height="80" fill="none" stroke="#bcbdc6" stroke-width="1.2"/><text class="r"><tspan x="868" y="291.9">2</tspan><tspan x="876">:</tspan><tspan x="884.3">1</tspan></text></g>
<g><path d="M917 298.5V396.5" stroke="#9a9ba7" stroke-width="1.6"/><text class="n"><tspan x="909" y="302.85">0</tspan><tspan x="909" y="308.85">195</tspan><tspan x="909" y="314.85">37</tspan><tspan x="909" y="319.85">375</tspan><tspan x="909" y="325.85">310</tspan><tspan x="909" y="331.85">319</tspan><tspan x="909" y="337.85">488</tspan><tspan x="909" y="342.85">373</tspan><tspan x="909" y="348.85">181</tspan><tspan x="909" y="354.85">405</tspan><tspan x="909" y="360.85">487</tspan><tspan x="909" y="365.85">380</tspan><tspan x="909" y="371.85">133</tspan><tspan x="909" y="377.85">59</tspan><tspan x="909" y="383.85">340</tspan><tspan x="909" y="388.85">123</tspan><tspan x="909" y="394.85" class="g">172</tspan></text><text class="n"><tspan x="925.3" y="302.85">307</tspan><tspan x="925.3" y="308.85" class="r">204</tspan><tspan x="925.3" y="314.85">169</tspan><tspan x="925.3" y="319.85">247</tspan><tspan x="925.3" y="325.85">200</tspan><tspan x="925.3" y="331.85">342</tspan><tspan x="925.3" y="337.85">515</tspan><tspan x="925.3" y="342.85">158</tspan><tspan x="925.3" y="348.85">169</tspan><tspan x="925.3" y="354.85">206</tspan><tspan x="925.3" y="360.85">412</tspan><tspan x="925.3" y="365.85">116</tspan><tspan x="925.3" y="371.85">68</tspan><tspan x="925.3" y="377.85">313</tspan><tspan x="925.3" y="383.85">160</tspan><tspan x="925.3" y="388.85">19</tspan><tspan x="925.3" y="394.85">0</tspan></text><rect x="901.1" y="333.3" width="31.8" height="5.75" fill="#6482dc" fill-opacity="0.45"/><rect x="900.5" y="298.5" width="33" height="98" fill="none" stroke="#bcbdc6" stroke-width="1.2"/><text class="r"><tspan x="909" y="296.9">1</tspan><tspan x="917">:</tspan><tspan x="925.3">1</tspan></text></g>
<g><path d="M957 385.5V534.5" stroke="#9a9ba7" stroke-width="1.6"/><text class="n"><tspan x="949" y="388.85">18</tspan><tspan x="949" y="394.85" class="g">190</tspan><tspan x="949" y="400.85">66</tspan><tspan x="949" y="406.85">213</tspan><tspan x="949" y="411.85">189</tspan><tspan x="949" y="417.85" class="g">185</tspan><tspan x="949" y="423.85">162</tspan><tspan x="949" y="429.85">212</tspan><tspan x="949" y="434.85">110</tspan><tspan x="949" y="440.85" class="g">142</tspan><tspan x="949" y="446.85" class="g">101</tspan><tspan x="949" y="452.85">132</tspan><tspan x="949" y="457.85" class="g">263</tspan><tspan x="949" y="463.85" class="g">186</tspan><tspan x="949" y="469.85">471</tspan><tspan x="949" y="475.85">1351</tspan><tspan x="949" y="480.85">250</tspan><tspan x="949" y="486.85">754</tspan><tspan x="949" y="492.85">602</tspan><tspan x="949" y="498.85">1030</tspan><tspan x="949" y="503.85">881</tspan><tspan x="949" y="509.85">175</tspan><tspan x="949" y="515.85">434</tspan><tspan x="949" y="521.85">263</tspan><tspan x="949" y="526.85">614</tspan><tspan x="949" y="532.85">236</tspan></text><text class="n"><tspan x="965.3" y="388.85">29</tspan><tspan x="965.3" y="394.85">106</tspan><tspan x="965.3" y="400.85">128</tspan><tspan x="965.3" y="406.85">272</tspan><tspan x="965.3" y="411.85">0</tspan><tspan x="965.3" y="417.85">100</tspan><tspan x="965.3" y="423.85">433</tspan><tspan x="965.3" y="429.85">114</tspan><tspan x="965.3" y="434.85">0</tspan><tspan x="965.3" y="440.85">0</tspan><tspan x="965.3" y="446.85">239</tspan><tspan x="965.3" y="452.85">27</tspan><tspan x="965.3" y="457.85">5</tspan><tspan x="965.3" y="463.85">310</tspan><tspan x="965.3" y="469.85">581</tspan><tspan x="965.3" y="475.85">534</tspan><tspan x="965.3" y="480.85">502</tspan><tspan x="965.3" y="486.85">1137</tspan><tspan x="965.3" y="492.85">848</tspan><tspan x="965.3" y="498.85">1070</tspan><tspan x="965.3" y="503.85">418</tspan><tspan x="965.3" y="509.85">166</tspan><tspan x="965.3" y="515.85">669</tspan><tspan x="965.3" y="521.85">371</tspan><tspan x="965.3" y="526.85">198</tspan><tspan x="965.3" y="532.85">0</tspan></text><rect x="941.1" y="494.35" width="31.8" height="5.75" fill="#6482dc" fill-opacity="0.45"/><rect x="940.5" y="385.5" width="33" height="149" fill="none" stroke="#bcbdc6" stroke-width="1.2"/><text class="r"><tspan x="949" y="383.9">6</tspan><tspan x="957">:</tspan><tspan x="965.3">0</tspan></text></g>
<g><path d="M997 310.5V523.5" stroke="#9a9ba7" stroke-width="1.6"/><text class="n"><tspan x="989" y="314.85">0</tspan><tspan x="989" y="319.85">0</tspan><tspan x="989" y="325.85">408</tspan><tspan x="989" y="331.85">350</tspan><tspan x="989" y="337.85">517</tspan><tspan x="989" y="342.85">506</tspan><tspan x="989" y="348.85">114</tspan><tspan x="989" y="354.85">87</tspan><tspan x="989" y="360.85">11</tspan><tspan x="989" y="365.85">68</tspan><tspan x="989" y="371.85">55</tspan><tspan x="989" y="377.85">197</tspan><tspan x="989" y="383.85">41</tspan><tspan x="989" y="388.85">3</tspan><tspan x="989" y="394.85">55</tspan><tspan x="989" y="400.85">247</tspan><tspan x="989" y="406.85">382</tspan><tspan x="989" y="411.85">280</tspan><tspan x="989" y="417.85">169</tspan><tspan x="989" y="423.85">433</tspan><tspan x="989" y="429.85">288</tspan><tspan x="989" y="440.85">0</tspan><tspan x="989" y="446.85">0</tspan><tspan x="989" y="457.85">0</tspan><tspan x="989" y="469.85">0</tspan><tspan x="989" y="480.85">42</tspan><tspan x="989" y="486.85">216</tspan><tspan x="989" y="492.85">178</tspan><tspan x="989" y="498.85">258</tspan><tspan x="989" y="503.85" class="g">790</tspan><tspan x="989" y="509.85">289</tspan><tspan x="989" y="515.85">334</tspan><tspan x="989" y="521.85">198</tspan></text><text class="n"><tspan x="1005.3" y="314.85" class="r">191</tspan><tspan x="1005.3" y="319.85">237</tspan><tspan x="1005.3" y="325.85">381</tspan><tspan x="1005.3" y="331.85">546</tspan><tspan x="1005.3" y="337.85">371</tspan><tspan x="1005.3" y="342.85">217</tspan><tspan x="1005.3" y="348.85">85</tspan><tspan x="1005.3" y="354.85" class="r">39</tspan><tspan x="1005.3" y="360.85">96</tspan><tspan x="1005.3" y="365.85">69</tspan><tspan x="1005.3" y="371.85">161</tspan><tspan x="1005.3" y="377.85">103</tspan><tspan x="1005.3" y="383.85" class="r">162</tspan><tspan x="1005.3" y="388.85">92</tspan><tspan x="1005.3" y="394.85">134</tspan><tspan x="1005.3" y="400.85">435</tspan><tspan x="1005.3" y="406.85">289</tspan><tspan x="1005.3" y="411.85">91</tspan><tspan x="1005.3" y="417.85">187</tspan><tspan x="1005.3" y="423.85">353</tspan><tspan x="1005.3" y="429.85" class="r">216</tspan><tspan x="1005.3" y="440.85" class="r">259</tspan><tspan x="1005.3" y="446.85" class="r">76</tspan><tspan x="1005.3" y="457.85" class="r">82</tspan><tspan x="1005.3" y="469.85" class="r">176</tspan><tspan x="1005.3" y="480.85">214</tspan><tspan x="1005.3" y="486.85">225</tspan><tspan x="1005.3" y="492.85">259</tspan><tspan x="1005.3" y="498.85">257</tspan><tspan x="1005.3" y="503.85">386</tspan><tspan x="1005.3" y="509.85">245</tspan><tspan x="1005.3" y="515.85">133</tspan><tspan x="1005.3" y="521.85">0</tspan></text><rect x="981.1" y="500.1" width="31.8" height="5.75" fill="#6482dc" fill-opacity="0.45"/><rect x="980.5" y="310.5" width="33" height="213" fill="none" stroke="#bcbdc6" stroke-width="1.2"/><text class="r"><tspan x="989" y="308.9">1</tspan><tspan x="997">:</tspan><tspan x="1005.3">8</tspan></text></g>
<g><path d="M1037 270.5V413.5" stroke="#9a9ba7" stroke-width="1.6"/><text class="n"><tspan x="1029" y="273.85">0</tspan><tspan x="1029" y="279.85">1064</tspan><tspan x="1029" y="285.85">288</tspan><tspan x="1029" y="291.85">227</tspan><tspan x="1029" y="296.85">90</tspan><tspan x="1029" y="302.85">453</tspan><tspan x="1029" y="308.85">683</tspan><tspan x="1029" y="314.85">934</tspan><tspan x="1029" y="319.85">899</tspan><tspan x="1029" y="325.85">1150</tspan><tspan x="1029" y="331.85">1112</tspan><tspan x="1029" y="337.85">252</tspan><tspan x="1029" y="342.85">156</tspan><tspan x="1029" y="348.85">107</tspan><tspan x="1029" y="354.85" class="g">225</tspan><tspan x="1029" y="360.85">24</tspan><tspan x="1029" y="365.85">159</tspan><tspan x="1029" y="371.85">143</tspan><tspan x="1029" y="377.85" class="g">125</tspan><tspan x="1029" y="383.85">62</tspan><tspan x="1029" y="388.85">213</tspan><tspan x="1029" y="394.85" class="g">61</tspan><tspan x="1029" y="400.85" class="g">35</tspan><tspan x="1029" y="406.85" class="g">276</tspan><tspan x="1029" y="411.85">42</tspan></text><text class="n"><tspan x="1045.3" y="273.85">553</tspan><tspan x="1045.3" y="279.85">165</tspan><tspan x="1045.3" y="285.85">276</tspan><tspan x="1045.3" y="291.85">208</tspan><tspan x="1045.3" y="296.85">210</tspan><tspan x="1045.3" y="302.85">802</tspan><tspan x="1045.3" y="308.85">886</tspan><tspan x="1045.3" y="314.85">577</tspan><tspan x="1045.3" y="319.85">803</tspan><tspan x="1045.3" y="325.85">510</tspan><tspan x="1045.3" y="331.85">257</tspan><tspan x="1045.3" y="337.85">107</tspan><tspan x="1045.3" y="342.85">69</tspan><tspan x="1045.3" y="348.85">49</tspan><tspan x="1045.3" y="354.85" class="r">163</tspan><tspan x="1045.3" y="360.85">114</tspan><tspan x="1045.3" y="365.85">138</tspan><tspan x="1045.3" y="371.85">29</tspan><tspan x="1045.3" y="377.85">81</tspan><tspan x="1045.3" y="383.85">178</tspan><tspan x="1045.3" y="388.85">5</tspan><tspan x="1045.3" y="394.85">5</tspan><tspan x="1045.3" y="400.85">48</tspan><tspan x="1045.3" y="406.85">17</tspan><tspan x="1045.3" y="411.85">0</tspan></text><rect x="1021.1" y="316.04" width="31.8" height="5.75" fill="#6482dc" fill-opacity="0.45"/><rect x="1020.5" y="270.5" width="33" height="143" fill="none" stroke="#bcbdc6" stroke-width="1.2"/><text class="r"><tspan x="1029" y="268.9">5</tspan><tspan x="1037">:</tspan><tspan x="1045.3">1</tspan></text></g>
<g><path d="M1078 350.5V425.5" stroke="#9a9ba7" stroke-width="1.6"/><text class="n"><tspan x="1070" y="354.85">0</tspan><tspan x="1070" y="360.85">0</tspan><tspan x="1070" y="365.85">86</tspan><tspan x="1070" y="371.85">338</tspan><tspan x="1070" y="377.85">189</tspan><tspan x="1070" y="383.85">270</tspan><tspan x="1070" y="388.85">282</tspan><tspan x="1070" y="394.85">631</tspan><tspan x="1070" y="400.85">481</tspan><tspan x="1070" y="406.85">846</tspan><tspan x="1070" y="411.85">213</tspan><tspan x="1070" y="417.85">285</tspan><tspan x="1070" y="423.85">119</tspan></text><text class="n"><tspan x="1086.3" y="354.85" class="r">12</tspan><tspan x="1086.3" y="360.85">70</tspan><tspan x="1086.3" y="365.85">190</tspan><tspan x="1086.3" y="371.85">404</tspan><tspan x="1086.3" y="377.85">119</tspan><tspan x="1086.3" y="383.85">371</tspan><tspan x="1086.3" y="388.85">615</tspan><tspan x="1086.3" y="394.85">399</tspan><tspan x="1086.3" y="400.85">648</tspan><tspan x="1086.3" y="406.85">228</tspan><tspan x="1086.3" y="411.85">172</tspan><tspan x="1086.3" y="417.85">287</tspan><tspan x="1086.3" y="423.85">0</tspan></text><rect x="1062.1" y="396.57" width="31.8" height="5.75" fill="#6482dc" fill-opacity="0.45"/><rect x="1061.5" y="350.5" width="33" height="75" fill="none" stroke="#bcbdc6" stroke-width="1.2"/><text class="r"><tspan x="1070" y="348.9">0</tspan><tspan x="1078">:</tspan><tspan x="1086.3">1</tspan></text></g>
<g><path d="M1118 413.5V563.5" stroke="#9a9ba7" stroke-width="1.6"/><text class="n"><tspan x="1110" y="417.85">0</tspan><tspan x="1110" y="423.85" class="g">63</tspan><tspan x="1110" y="429.85">134</tspan><tspan x="1110" y="434.85">131</tspan><tspan x="1110" y="440.85">150</tspan><tspan x="1110" y="446.85">336</tspan><tspan x="1110" y="452.85">158</tspan><tspan x="1110" y="457.85">162</tspan><tspan x="1110" y="463.85">287</tspan><tspan x="1110" y="469.85">321</tspan><tspan x="1110" y="475.85">326</tspan><tspan x="1110" y="480.85">198</tspan><tspan x="1110" y="486.85">582</tspan><tspan x="1110" y="492.85">311</tspan><tspan x="1110" y="498.85">630</tspan><tspan x="1110" y="503.85">557</tspan><tspan x="1110" y="521.85" class="g">266</tspan><tspan x="1110" y="526.85">436</tspan><tspan x="1110" y="532.85">606</tspan><tspan x="1110" y="538.85" class="g">444</tspan><tspan x="1110" y="544.85">464</tspan><tspan x="1110" y="549.85">589</tspan><tspan x="1110" y="555.85">477</tspan><tspan x="1110" y="561.85">25</tspan></text><text class="n"><tspan x="1126.3" y="417.85">9</tspan><tspan x="1126.3" y="423.85">175</tspan><tspan x="1126.3" y="429.85">130</tspan><tspan x="1126.3" y="434.85">57</tspan><tspan x="1126.3" y="440.85">255</tspan><tspan x="1126.3" y="446.85">82</tspan><tspan x="1126.3" y="452.85">103</tspan><tspan x="1126.3" y="457.85">273</tspan><tspan x="1126.3" y="463.85">306</tspan><tspan x="1126.3" y="469.85">606</tspan><tspan x="1126.3" y="475.85">351</tspan><tspan x="1126.3" y="480.85">179</tspan><tspan x="1126.3" y="486.85">717</tspan><tspan x="1126.3" y="492.85">388</tspan><tspan x="1126.3" y="498.85">573</tspan><tspan x="1126.3" y="503.85">43</tspan><tspan x="1126.3" y="521.85">259</tspan><tspan x="1126.3" y="526.85">419</tspan><tspan x="1126.3" y="532.85">135</tspan><tspan x="1126.3" y="538.85">209</tspan><tspan x="1126.3" y="544.85">355</tspan><tspan x="1126.3" y="549.85">702</tspan><tspan x="1126.3" y="555.85" class="r">158</tspan><tspan x="1126.3" y="561.85">0</tspan></text><rect x="1102.1" y="546.12" width="31.8" height="5.75" fill="#6482dc" fill-opacity="0.45"/><rect x="1101.5" y="413.5" width="33" height="150" fill="none" stroke="#bcbdc6" stroke-width="1.2"/><text class="r"><tspan x="1110" y="411.9">3</tspan><tspan x="1118">:</tspan><tspan x="1126.3">1</tspan></text></g>
<g><path d="M1158 500.5V649.5" stroke="#9a9ba7" stroke-width="1.6"/><text class="n"><tspan x="1150" y="503.85">0</tspan><tspan x="1150" y="509.85">79</tspan><tspan x="1150" y="515.85">513</tspan><tspan x="1150" y="521.85">334</tspan><tspan x="1150" y="526.85">95</tspan><tspan x="1150" y="532.85">307</tspan><tspan x="1150" y="538.85">378</tspan><tspan x="1150" y="544.85">768</tspan><tspan x="1150" y="549.85">481</tspan><tspan x="1150" y="555.85">366</tspan><tspan x="1150" y="561.85">176</tspan><tspan x="1150" y="567.85">339</tspan><tspan x="1150" y="573.85">199</tspan><tspan x="1150" y="578.85">148</tspan><tspan x="1150" y="584.85">425</tspan><tspan x="1150" y="590.85">485</tspan><tspan x="1150" y="596.85" class="g">212</tspan><tspan x="1150" y="601.85">304</tspan><tspan x="1150" y="607.85">121</tspan><tspan x="1150" y="613.85">461</tspan><tspan x="1150" y="619.85">691</tspan><tspan x="1150" y="624.85">280</tspan><tspan x="1150" y="630.85">400</tspan><tspan x="1150" y="636.85">373</tspan><tspan x="1150" y="642.85">500</tspan><tspan x="1150" y="647.85">62</tspan></text><text class="n"><tspan x="1166.3" y="503.85">38</tspan><tspan x="1166.3" y="509.85">301</tspan><tspan x="1166.3" y="515.85">303</tspan><tspan x="1166.3" y="521.85" class="r">336</tspan><tspan x="1166.3" y="526.85">164</tspan><tspan x="1166.3" y="532.85">485</tspan><tspan x="1166.3" y="538.85">507</tspan><tspan x="1166.3" y="544.85">424</tspan><tspan x="1166.3" y="549.85">433</tspan><tspan x="1166.3" y="555.85">114</tspan><tspan x="1166.3" y="561.85">209</tspan><tspan x="1166.3" y="567.85">256</tspan><tspan x="1166.3" y="573.85">220</tspan><tspan x="1166.3" y="578.85">271</tspan><tspan x="1166.3" y="584.85">508</tspan><tspan x="1166.3" y="590.85">20</tspan><tspan x="1166.3" y="596.85">525</tspan><tspan x="1166.3" y="601.85">314</tspan><tspan x="1166.3" y="607.85">283</tspan><tspan x="1166.3" y="613.85">705</tspan><tspan x="1166.3" y="619.85">538</tspan><tspan x="1166.3" y="624.85">308</tspan><tspan x="1166.3" y="630.85">478</tspan><tspan x="1166.3" y="636.85">359</tspan><tspan x="1166.3" y="642.85" class="r">715</tspan><tspan x="1166.3" y="647.85">12</tspan></text><rect x="1142.1" y="609.39" width="31.8" height="5.75" fill="#6482dc" fill-opacity="0.45"/><rect x="1141.5" y="500.5" width="33" height="149" fill="none" stroke="#bcbdc6" stroke-width="1.2"/><text class="r"><tspan x="1150" y="498.9">1</tspan><tspan x="1158">:</tspan><tspan x="1166.3">2</tspan></text></g>
<g><path d="M1198 517.5V661.5" stroke="#9a9ba7" stroke-width="1.6"/><text class="n"><tspan x="1190" y="521.85">0</tspan><tspan x="1190" y="526.85">54</tspan><tspan x="1190" y="532.85">368</tspan><tspan x="1190" y="538.85">348</tspan><tspan x="1190" y="544.85">438</tspan><tspan x="1190" y="549.85">171</tspan><tspan x="1190" y="555.85">230</tspan><tspan x="1190" y="561.85">386</tspan><tspan x="1190" y="567.85">59</tspan><tspan x="1190" y="573.85">75</tspan><tspan x="1190" y="578.85">6</tspan><tspan x="1190" y="584.85">114</tspan><tspan x="1190" y="590.85">217</tspan><tspan x="1190" y="596.85">603</tspan><tspan x="1190" y="601.85">336</tspan><tspan x="1190" y="607.85">177</tspan><tspan x="1190" y="613.85">268</tspan><tspan x="1190" y="619.85">0</tspan><tspan x="1190" y="624.85">9</tspan><tspan x="1190" y="630.85">0</tspan><tspan x="1190" y="636.85">241</tspan><tspan x="1190" y="642.85">63</tspan><tspan x="1190" y="647.85">94</tspan><tspan x="1190" y="653.85">146</tspan><tspan x="1190" y="659.85">16</tspan></text><text class="n"><tspan x="1206.3" y="521.85">67</tspan><tspan x="1206.3" y="526.85">131</tspan><tspan x="1206.3" y="532.85">764</tspan><tspan x="1206.3" y="538.85">366</tspan><tspan x="1206.3" y="544.85">417</tspan><tspan x="1206.3" y="549.85">416</tspan><tspan x="1206.3" y="555.85">106</tspan><tspan x="1206.3" y="561.85" class="r">258</tspan><tspan x="1206.3" y="567.85">121</tspan><tspan x="1206.3" y="573.85" class="r">475</tspan><tspan x="1206.3" y="578.85">88</tspan><tspan x="1206.3" y="584.85">381</tspan><tspan x="1206.3" y="590.85">520</tspan><tspan x="1206.3" y="596.85">626</tspan><tspan x="1206.3" y="601.85">280</tspan><tspan x="1206.3" y="607.85">187</tspan><tspan x="1206.3" y="613.85" class="r">121</tspan><tspan x="1206.3" y="619.85" class="r">40</tspan><tspan x="1206.3" y="624.85" class="r">58</tspan><tspan x="1206.3" y="630.85">187</tspan><tspan x="1206.3" y="636.85" class="r">202</tspan><tspan x="1206.3" y="642.85">234</tspan><tspan x="1206.3" y="647.85">99</tspan><tspan x="1206.3" y="653.85" class="r">209</tspan><tspan x="1206.3" y="659.85">0</tspan></text><rect x="1182.1" y="592.14" width="31.8" height="5.75" fill="#6482dc" fill-opacity="0.45"/><rect x="1181.5" y="517.5" width="33" height="144" fill="none" stroke="#bcbdc6" stroke-width="1.2"/><text class="r"><tspan x="1190" y="515.9">0</tspan><tspan x="1198">:</tspan><tspan x="1206.3">7</tspan></text></g>
<g><path d="M1239 356.5V563.5" stroke="#9a9ba7" stroke-width="1.6"/><text class="n"><tspan x="1231" y="360.85">0</tspan><tspan x="1231" y="365.85">79</tspan><tspan x="1231" y="371.85">43</tspan><tspan x="1231" y="377.85">152</tspan><tspan x="1231" y="383.85">79</tspan><tspan x="1231" y="388.85" class="g">277</tspan><tspan x="1231" y="394.85">683</tspan><tspan x="1231" y="400.85">467</tspan><tspan x="1231" y="406.85">785</tspan><tspan x="1231" y="411.85">228</tspan><tspan x="1231" y="417.85">385</tspan><tspan x="1231" y="423.85">150</tspan><tspan x="1231" y="429.85">283</tspan><tspan x="1231" y="434.85">276</tspan><tspan x="1231" y="440.85">336</tspan><tspan x="1231" y="446.85" class="g">362</tspan><tspan x="1231" y="452.85">116</tspan><tspan x="1231" y="457.85">130</tspan><tspan x="1231" y="463.85">0</tspan><tspan x="1231" y="475.85">0</tspan><tspan x="1231" y="480.85">28</tspan><tspan x="1231" y="486.85">0</tspan><tspan x="1231" y="492.85">47</tspan><tspan x="1231" y="498.85">43</tspan><tspan x="1231" y="503.85">38</tspan><tspan x="1231" y="509.85">11</tspan><tspan x="1231" y="521.85">0</tspan><tspan x="1231" y="526.85">45</tspan><tspan x="1231" y="532.85">195</tspan><tspan x="1231" y="538.85">170</tspan><tspan x="1231" y="544.85">117</tspan><tspan x="1231" y="549.85">107</tspan><tspan x="1231" y="555.85">157</tspan><tspan x="1231" y="561.85">116</tspan></text><text class="n"><tspan x="1247.3" y="360.85">127</tspan><tspan x="1247.3" y="365.85" class="r">200</tspan><tspan x="1247.3" y="371.85">163</tspan><tspan x="1247.3" y="377.85">175</tspan><tspan x="1247.3" y="383.85">43</tspan><tspan x="1247.3" y="388.85">524</tspan><tspan x="1247.3" y="394.85">626</tspan><tspan x="1247.3" y="400.85">635</tspan><tspan x="1247.3" y="406.85">555</tspan><tspan x="1247.3" y="411.85">549</tspan><tspan x="1247.3" y="417.85">427</tspan><tspan x="1247.3" y="423.85">166</tspan><tspan x="1247.3" y="429.85">540</tspan><tspan x="1247.3" y="434.85">234</tspan><tspan x="1247.3" y="440.85">96</tspan><tspan x="1247.3" y="446.85">85</tspan><tspan x="1247.3" y="452.85" class="r">589</tspan><tspan x="1247.3" y="457.85" class="r">138</tspan><tspan x="1247.3" y="463.85" class="r">46</tspan><tspan x="1247.3" y="475.85" class="r">85</tspan><tspan x="1247.3" y="480.85" class="r">126</tspan><tspan x="1247.3" y="486.85">137</tspan><tspan x="1247.3" y="492.85">47</tspan><tspan x="1247.3" y="498.85" class="r">125</tspan><tspan x="1247.3" y="503.85" class="r">356</tspan><tspan x="1247.3" y="509.85" class="r">114</tspan><tspan x="1247.3" y="521.85" class="r">244</tspan><tspan x="1247.3" y="526.85">228</tspan><tspan x="1247.3" y="532.85">436</tspan><tspan x="1247.3" y="538.85">99</tspan><tspan x="1247.3" y="544.85">101</tspan><tspan x="1247.3" y="549.85">190</tspan><tspan x="1247.3" y="555.85">83</tspan><tspan x="1247.3" y="561.85">0</tspan></text><rect x="1223.1" y="402.32" width="31.8" height="5.75" fill="#6482dc" fill-opacity="0.45"/><rect x="1222.5" y="356.5" width="33" height="207" fill="none" stroke="#bcbdc6" stroke-width="1.2"/><text class="r"><tspan x="1231" y="354.9">2</tspan><tspan x="1239">:</tspan><tspan x="1247.3">10</tspan></text></g>
<g><path d="M1279 310.5V419.5" stroke="#9a9ba7" stroke-width="1.6"/><text class="n"><tspan x="1271" y="314.85">570</tspan><tspan x="1271" y="319.85">485</tspan><tspan x="1271" y="325.85">372</tspan><tspan x="1271" y="331.85">256</tspan><tspan x="1271" y="337.85">476</tspan><tspan x="1271" y="342.85">976</tspan><tspan x="1271" y="348.85">459</tspan><tspan x="1271" y="354.85">277</tspan><tspan x="1271" y="360.85">488</tspan><tspan x="1271" y="365.85">782</tspan><tspan x="1271" y="371.85">319</tspan><tspan x="1271" y="377.85">306</tspan><tspan x="1271" y="383.85">288</tspan><tspan x="1271" y="388.85">242</tspan><tspan x="1271" y="394.85">224</tspan><tspan x="1271" y="400.85">136</tspan><tspan x="1271" y="406.85">73</tspan><tspan x="1271" y="411.85">75</tspan><tspan x="1271" y="417.85">97</tspan></text><text class="n"><tspan x="1287.3" y="314.85">808</tspan><tspan x="1287.3" y="319.85">361</tspan><tspan x="1287.3" y="325.85">98</tspan><tspan x="1287.3" y="331.85">512</tspan><tspan x="1287.3" y="337.85">808</tspan><tspan x="1287.3" y="342.85">391</tspan><tspan x="1287.3" y="348.85">282</tspan><tspan x="1287.3" y="354.85">523</tspan><tspan x="1287.3" y="360.85">863</tspan><tspan x="1287.3" y="365.85">348</tspan><tspan x="1287.3" y="371.85">213</tspan><tspan x="1287.3" y="377.85">239</tspan><tspan x="1287.3" y="383.85">179</tspan><tspan x="1287.3" y="388.85">194</tspan><tspan x="1287.3" y="394.85">97</tspan><tspan x="1287.3" y="400.85">32</tspan><tspan x="1287.3" y="406.85">32</tspan><tspan x="1287.3" y="411.85">74</tspan><tspan x="1287.3" y="417.85">0</tspan></text><rect x="1263.1" y="310.29" width="31.8" height="5.75" fill="#6482dc" fill-opacity="0.45"/><rect x="1262.5" y="310.5" width="33" height="109" fill="none" stroke="#bcbdc6" stroke-width="1.2"/><text class="r"><tspan x="1271" y="308.9">0</tspan><tspan x="1279">:</tspan><tspan x="1287.3">0</tspan></text></g>
<g><path d="M1319 350.5V413.5" stroke="#9a9ba7" stroke-width="1.6"/><text class="n"><tspan x="1311" y="354.85">33</tspan><tspan x="1311" y="360.85">169</tspan><tspan x="1311" y="365.85">494</tspan><tspan x="1311" y="371.85">484</tspan><tspan x="1311" y="377.85">454</tspan><tspan x="1311" y="383.85">365</tspan><tspan x="1311" y="388.85">322</tspan><tspan x="1311" y="394.85">97</tspan><tspan x="1311" y="400.85" class="g">417</tspan><tspan x="1311" y="406.85">428</tspan><tspan x="1311" y="411.85">39</tspan></text><text class="n"><tspan x="1327.3" y="354.85">102</tspan><tspan x="1327.3" y="360.85">318</tspan><tspan x="1327.3" y="365.85">519</tspan><tspan x="1327.3" y="371.85">447</tspan><tspan x="1327.3" y="377.85">334</tspan><tspan x="1327.3" y="383.85">189</tspan><tspan x="1327.3" y="388.85">202</tspan><tspan x="1327.3" y="394.85">115</tspan><tspan x="1327.3" y="400.85">308</tspan><tspan x="1327.3" y="406.85" class="r">124</tspan><tspan x="1327.3" y="411.85">0</tspan></text><rect x="1303.1" y="362.06" width="31.8" height="5.75" fill="#6482dc" fill-opacity="0.45"/><rect x="1302.5" y="350.5" width="33" height="63" fill="none" stroke="#bcbdc6" stroke-width="1.2"/><text class="r"><tspan x="1311" y="348.9">1</tspan><tspan x="1319">:</tspan><tspan x="1327.3">1</tspan></text></g>
<g><path d="M1359 275.5V379.5" stroke="#9a9ba7" stroke-width="1.6"/><text class="n"><tspan x="1351" y="279.85">0</tspan><tspan x="1351" y="285.85">183</tspan><tspan x="1351" y="291.85">251</tspan><tspan x="1351" y="296.85">485</tspan><tspan x="1351" y="302.85">221</tspan><tspan x="1351" y="308.85">699</tspan><tspan x="1351" y="314.85">1006</tspan><tspan x="1351" y="319.85">934</tspan><tspan x="1351" y="325.85">701</tspan><tspan x="1351" y="331.85">347</tspan><tspan x="1351" y="337.85">378</tspan><tspan x="1351" y="342.85">19</tspan><tspan x="1351" y="348.85">224</tspan><tspan x="1351" y="354.85" class="g">95</tspan><tspan x="1351" y="360.85">65</tspan><tspan x="1351" y="365.85">75</tspan><tspan x="1351" y="371.85">62</tspan><tspan x="1351" y="377.85">59</tspan></text><text class="n"><tspan x="1367.3" y="279.85">95</tspan><tspan x="1367.3" y="285.85">200</tspan><tspan x="1367.3" y="291.85">167</tspan><tspan x="1367.3" y="296.85" class="r">898</tspan><tspan x="1367.3" y="302.85">305</tspan><tspan x="1367.3" y="308.85">717</tspan><tspan x="1367.3" y="314.85">922</tspan><tspan x="1367.3" y="319.85">774</tspan><tspan x="1367.3" y="325.85">319</tspan><tspan x="1367.3" y="331.85">359</tspan><tspan x="1367.3" y="337.85" class="r">230</tspan><tspan x="1367.3" y="342.85">99</tspan><tspan x="1367.3" y="348.85">27</tspan><tspan x="1367.3" y="354.85">25</tspan><tspan x="1367.3" y="360.85">148</tspan><tspan x="1367.3" y="365.85">102</tspan><tspan x="1367.3" y="371.85">84</tspan><tspan x="1367.3" y="377.85">0</tspan></text><rect x="1343.1" y="310.29" width="31.8" height="5.75" fill="#6482dc" fill-opacity="0.45"/><rect x="1342.5" y="275.5" width="33" height="104" fill="none" stroke="#bcbdc6" stroke-width="1.2"/><text class="r"><tspan x="1351" y="273.9">1</tspan><tspan x="1359">:</tspan><tspan x="1367.3">2</tspan></text></g>
<g><path d="M1400 287.5V362.5" stroke="#9a9ba7" stroke-width="1.6"/><text class="n"><tspan x="1392" y="291.85">0</tspan><tspan x="1392" y="296.85" class="g">118</tspan><tspan x="1392" y="302.85" class="g">127</tspan><tspan x="1392" y="308.85">448</tspan><tspan x="1392" y="314.85">689</tspan><tspan x="1392" y="319.85">598</tspan><tspan x="1392" y="325.85">381</tspan><tspan x="1392" y="331.85">517</tspan><tspan x="1392" y="337.85">235</tspan><tspan x="1392" y="342.85">81</tspan><tspan x="1392" y="348.85" class="g">330</tspan><tspan x="1392" y="354.85">246</tspan><tspan x="1392" y="360.85">74</tspan></text><text class="n"><tspan x="1408.3" y="291.85">18</tspan><tspan x="1408.3" y="296.85">0</tspan><tspan x="1408.3" y="302.85">489</tspan><tspan x="1408.3" y="308.85">647</tspan><tspan x="1408.3" y="314.85">477</tspan><tspan x="1408.3" y="319.85">422</tspan><tspan x="1408.3" y="325.85">272</tspan><tspan x="1408.3" y="331.85">330</tspan><tspan x="1408.3" y="337.85" class="r">262</tspan><tspan x="1408.3" y="342.85">65</tspan><tspan x="1408.3" y="348.85">167</tspan><tspan x="1408.3" y="354.85">75</tspan><tspan x="1408.3" y="360.85">0</tspan></text><rect x="1384.1" y="310.29" width="31.8" height="5.75" fill="#6482dc" fill-opacity="0.45"/><rect x="1383.5" y="287.5" width="33" height="75" fill="none" stroke="#bcbdc6" stroke-width="1.2"/><text class="r"><tspan x="1392" y="285.9">3</tspan><tspan x="1400">:</tspan><tspan x="1408.3">1</tspan></text></g>
<g><path d="M1440 298.5V367.5" stroke="#9a9ba7" stroke-width="1.6"/><text class="n"><tspan x="1432" y="302.85">0</tspan><tspan x="1432" y="308.85">105</tspan><tspan x="1432" y="314.85">412</tspan><tspan x="1432" y="319.85">161</tspan><tspan x="1432" y="325.85">111</tspan><tspan x="1432" y="331.85" class="g">259</tspan><tspan x="1432" y="337.85">326</tspan><tspan x="1432" y="342.85">323</tspan><tspan x="1432" y="348.85">251</tspan><tspan x="1432" y="354.85">242</tspan><tspan x="1432" y="360.85">280</tspan><tspan x="1432" y="365.85">164</tspan></text><text class="n"><tspan x="1448.3" y="302.85">40</tspan><tspan x="1448.3" y="308.85">375</tspan><tspan x="1448.3" y="314.85">223</tspan><tspan x="1448.3" y="319.85">264</tspan><tspan x="1448.3" y="325.85">82</tspan><tspan x="1448.3" y="331.85">370</tspan><tspan x="1448.3" y="337.85">255</tspan><tspan x="1448.3" y="342.85">305</tspan><tspan x="1448.3" y="348.85">186</tspan><tspan x="1448.3" y="354.85">226</tspan><tspan x="1448.3" y="360.85">88</tspan><tspan x="1448.3" y="365.85">0</tspan></text><rect x="1424.1" y="339.05" width="31.8" height="5.75" fill="#6482dc" fill-opacity="0.45"/><rect x="1423.5" y="298.5" width="33" height="69" fill="none" stroke="#bcbdc6" stroke-width="1.2"/><text class="r"><tspan x="1432" y="296.9">1</tspan><tspan x="1440">:</tspan><tspan x="1448.3">0</tspan></text></g>
<g><path d="M1480 189.5V327.5" stroke="#9a9ba7" stroke-width="1.6"/><text class="n"><tspan x="1472" y="193.85">59</tspan><tspan x="1472" y="199.85">55</tspan><tspan x="1472" y="204.85">400</tspan><tspan x="1472" y="210.85">456</tspan><tspan x="1472" y="216.85">1115</tspan><tspan x="1472" y="222.85">164</tspan><tspan x="1472" y="227.85">0</tspan><tspan x="1472" y="239.85">0</tspan><tspan x="1472" y="245.85">12</tspan><tspan x="1472" y="250.85">566</tspan><tspan x="1472" y="256.85">222</tspan><tspan x="1472" y="262.85">287</tspan><tspan x="1472" y="268.85">451</tspan><tspan x="1472" y="273.85">482</tspan><tspan x="1472" y="279.85">45</tspan><tspan x="1472" y="285.85">17</tspan><tspan x="1472" y="291.85">25</tspan><tspan x="1472" y="302.85">0</tspan><tspan x="1472" y="308.85">638</tspan><tspan x="1472" y="314.85">891</tspan><tspan x="1472" y="319.85">107</tspan><tspan x="1472" y="325.85" class="g">64</tspan></text><text class="n"><tspan x="1488.3" y="193.85" class="r">108</tspan><tspan x="1488.3" y="199.85">276</tspan><tspan x="1488.3" y="204.85">536</tspan><tspan x="1488.3" y="210.85">418</tspan><tspan x="1488.3" y="216.85" class="r">573</tspan><tspan x="1488.3" y="222.85" class="r">55</tspan><tspan x="1488.3" y="227.85" class="r">223</tspan><tspan x="1488.3" y="239.85">23</tspan><tspan x="1488.3" y="245.85">352</tspan><tspan x="1488.3" y="250.85">299</tspan><tspan x="1488.3" y="256.85">287</tspan><tspan x="1488.3" y="262.85">352</tspan><tspan x="1488.3" y="268.85">454</tspan><tspan x="1488.3" y="273.85" class="r">971</tspan><tspan x="1488.3" y="279.85" class="r">104</tspan><tspan x="1488.3" y="285.85" class="r">488</tspan><tspan x="1488.3" y="291.85" class="r">34</tspan><tspan x="1488.3" y="302.85">793</tspan><tspan x="1488.3" y="308.85">932</tspan><tspan x="1488.3" y="314.85">289</tspan><tspan x="1488.3" y="319.85">3</tspan><tspan x="1488.3" y="325.85">0</tspan></text><rect x="1464.1" y="212.5" width="31.8" height="5.75" fill="#6482dc" fill-opacity="0.45"/><rect x="1463.5" y="189.5" width="33" height="138" fill="none" stroke="#bcbdc6" stroke-width="1.2"/><text class="r"><tspan x="1472" y="187.9">1</tspan><tspan x="1480">:</tspan><tspan x="1488.3">8</tspan></text></g>
</g>
<g><rect x="296.3" y="695.67" width="1607.7" height="23.01" fill="#ff0000" fill-opacity="0.18"/><rect x="981.3" y="425.33" width="112.5" height="5.75" fill="#ff0000" fill-opacity="0.18"/><rect x="981.3" y="436.83" width="112.5" height="11.5" fill="#ff0000" fill-opacity="0.18"/><rect x="981.3" y="454.09" width="112.5" height="5.75" fill="#ff0000" fill-opacity="0.18"/><rect x="981.3" y="465.59" width="112.5" height="5.75" fill="#ff0000" fill-opacity="0.18"/><rect x="1182" y="609.39" width="722" height="17.26" fill="#ff0000" fill-opacity="0.18"/><rect x="1222.4" y="448.34" width="681.6" height="17.26" fill="#ff0000" fill-opacity="0.18"/><rect x="1222.4" y="471.34" width="681.6" height="11.5" fill="#ff0000" fill-opacity="0.18"/><rect x="1222.4" y="494.35" width="681.6" height="17.26" fill="#ff0000" fill-opacity="0.18"/><rect x="1222.4" y="517.36" width="681.6" height="5.75" fill="#ff0000" fill-opacity="0.18"/><rect x="1464" y="212.5" width="440" height="17.26" fill="#ff0000" fill-opacity="0.18"/><rect x="1464" y="270.02" width="440" height="23.01" fill="#ff0000" fill-opacity="0.18"/><rect x="1021.2" y="390.82" width="234.3" height="17.26" fill="#10b050" fill-opacity="0.3"/></g>
<g id="bodies" stroke-width="2"><path d="M31 672.66V678.42" stroke="#ffffff"/><path d="M71 678.42V701.42" stroke="#1ea51e"/><path d="M111 689.92V701.42" stroke="#f4412f"/><path d="M151 689.92V753.19" stroke="#1ea51e"/><path d="M192 753.19V787.7" stroke="#1ea51e"/><path d="M232 770.45V787.7" stroke="#f4412f"/><path d="M272 741.69V770.45" stroke="#f4412f"/><path d="M313 661.16V741.69" stroke="#f4412f"/><path d="M353 620.9V661.16" stroke="#f4412f"/><path d="M393 615.14V626.65" stroke="#f4412f"/><path d="M433 379.31V620.9" stroke="#f4412f"/><path d="M474 373.56V385.06" stroke="#f4412f"/><path d="M514 362.06V385.06" stroke="#f4412f"/><path d="M554 356.3V362.06" stroke="#ffffff"/><path d="M594 356.3V396.57" stroke="#1ea51e"/><path d="M635 390.82V408.07" stroke="#1ea51e"/><path d="M675 321.79V408.07" stroke="#f4412f"/><path d="M715 321.79V333.3" stroke="#1ea51e"/><path d="M755 327.54V390.82" stroke="#1ea51e"/><path d="M796 310.29V385.06" stroke="#f4412f"/><path d="M836 316.04V327.54" stroke="#1ea51e"/><path d="M876 321.79V373.56" stroke="#1ea51e"/><path d="M917 373.56V390.82" stroke="#1ea51e"/><path d="M957 385.06V494.35" stroke="#1ea51e"/><path d="M997 339.05V488.6" stroke="#f4412f"/><path d="M1037 339.05V413.82" stroke="#1ea51e"/><path d="M1078 402.32V425.33" stroke="#1ea51e"/><path d="M1118 419.58V546.12" stroke="#1ea51e"/><path d="M1158 534.62V649.66" stroke="#1ea51e"/><path d="M1198 528.86V649.66" stroke="#f4412f"/><path d="M1239 396.57V534.62" stroke="#f4412f"/><path d="M1279 373.56V402.32" stroke="#f4412f"/><path d="M1319 362.06V385.06" stroke="#f4412f"/><path d="M1359 316.04V362.06" stroke="#f4412f"/><path d="M1400 316.04V333.3" stroke="#1ea51e"/><path d="M1440 310.29V339.05" stroke="#f4412f"/><path d="M1480 218.26V321.79" stroke="#f4412f"/></g>
<g id="deltas" text-anchor="middle"><text class="d g" x="31" y="716.6">-476</text><text class="d r" x="71" y="728.6">803</text><text class="d g" x="111" y="711.6">-354</text><text class="d g" x="151" y="785.6">-72</text><text class="d g" x="192" y="826.6">-234</text><text class="d g" x="232" y="808.6">-468</text><text class="d r" x="272" y="803.6">500</text><text class="d r" x="313" y="745.6">1447</text><text class="d r" x="353" y="676.6">1228</text><text class="d r" x="393" y="676.6">21</text><text class="d r" x="433" y="624.6">1721</text><text class="d g" x="474" y="452.6">-1240</text><text class="d r" x="514" y="394.6">589</text><text class="d g" x="554" y="423.6">-595</text><text class="d g" x="594" y="429.6">-499</text><text class="d r" x="635" y="429.6">221</text><text class="d g" x="675" y="446.6">-641</text><text class="d g" x="715" y="354.6">-50</text><text class="d g" x="755" y="463.6">-1526</text><text class="d g" x="796" y="417.6">-179</text><text class="d g" x="836" y="360.6">-336</text><text class="d g" x="876" y="377.6">-335</text><text class="d g" x="917" y="400.6">-697</text><text class="d g" x="957" y="538.6">-633</text><text class="d r" x="997" y="527.6">318</text><text class="d g" x="1037" y="417.6">-2530</text><text class="d g" x="1078" y="429.6">-202</text><text class="d g" x="1118" y="567.6">-928</text><text class="d r" x="1158" y="653.6">359</text><text class="d r" x="1198" y="665.6">2004</text><text class="d r" x="1239" y="567.6">1879</text><text class="d g" x="1279" y="423.6">-857</text><text class="d g" x="1319" y="417.6">-504</text><text class="d g" x="1359" y="383.6">-353</text><text class="d g" x="1400" y="366.6">-640</text><text class="d g" x="1440" y="371.6">-164</text><text class="d r" x="1480" y="331.6">1664</text></g>
<path d="M8 204H1882.3" stroke="#3f5fb8" stroke-width="1.3"/>
<path d="M8 359.5H1715.1" stroke="#e2b23a" stroke-width="1"/>
<path d="M8 508.9H1874.7" stroke="#98388f" stroke-width="1.6"/>
<g id="vp">
<path d="M1891.8 207.33H1898v4.6H1891.8ZM1880 213.08H1895.9v4.6H1880ZM1901 218.83H1903.3v4.6H1901ZM1875.9 247.59H1886.7v4.6H1875.9ZM1866.9 253.34H1886.4v4.6H1866.9ZM1875.2 259.1H1891.5v4.6H1875.2ZM1880.9 264.85H1890.8v4.6H1880.9ZM1861.1 270.6H1872.8v4.6H1861.1ZM1870.1 276.35H1891.8v4.6H1870.1ZM1868.5 282.1H1879.1v4.6H1868.5ZM1870.3 287.86H1889.7v4.6H1870.3ZM1839 293.61H1863.6v4.6H1839ZM1812 299.36H1837.1v4.6H1812ZM1766 305.11H1834.6v4.6H1766ZM1737 310.86H1823.5v4.6H1737ZM1756 316.62H1832.8v4.6H1756ZM1762.1 322.37H1842.4v4.6H1762.1ZM1733.2 328.12H1820.3v4.6H1733.2ZM1739.2 333.87H1830.5v4.6H1739.2ZM1758.1 339.62H1834.9v4.6H1758.1ZM1759.8 345.38H1832.8v4.6H1759.8ZM1769.2 351.13H1831.1v4.6H1769.2ZM1730.2 362.63H1824v4.6H1730.2ZM1759 368.38H1839v4.6H1759ZM1759 374.14H1840.8v4.6H1759ZM1742.2 379.89H1831.4v4.6H1742.2ZM1765.1 385.64H1837.9v4.6H1765.1ZM1754 391.39H1831.8v4.6H1754ZM1747.1 397.14H1833.2v4.6H1747.1ZM1764.6 402.9H1851.6v4.6H1764.6ZM1788.5 408.65H1857.6v4.6H1788.5ZM1758.3 414.4H1828.2v4.6H1758.3ZM1800 420.15H1865.9v4.6H1800ZM1808.1 425.9H1865v4.6H1808.1ZM1846.1 431.66H1884.1v4.6H1846.1ZM1868 437.41H1887.4v4.6H1868ZM1873.8 443.16H1893.6v4.6H1873.8ZM1878.8 448.91H1890.6v4.6H1878.8ZM1885.8 454.66H1896.4v4.6H1885.8ZM1873.8 460.42H1883v4.6H1873.8ZM1861.8 466.17H1878.6v4.6H1861.8ZM1847.3 471.92H1880.5v4.6H1847.3ZM1850.1 477.67H1865.7v4.6H1850.1ZM1839.9 483.42H1869.9v4.6H1839.9ZM1864.1 489.18H1882.1v4.6H1864.1ZM1845.5 494.93H1873.3v4.6H1845.5ZM1847 500.68H1882.3v4.6H1847Z" fill="#ab3428"/>
<path d="M1898 207.33H1904v4.6H1898ZM1895.9 213.08H1904v4.6H1895.9ZM1903.3 218.83H1904v4.6H1903.3ZM1900.7 224.58H1904v4.6H1900.7ZM1903.3 236.09H1904v4.6H1903.3ZM1897.1 241.84H1904v4.6H1897.1ZM1886.7 247.59H1904v4.6H1886.7ZM1886.4 253.34H1904v4.6H1886.4ZM1891.5 259.1H1904v4.6H1891.5ZM1890.8 264.85H1904v4.6H1890.8ZM1872.8 270.6H1904v4.6H1872.8ZM1891.8 276.35H1904v4.6H1891.8ZM1879.1 282.1H1904v4.6H1879.1ZM1889.7 287.86H1904v4.6H1889.7ZM1863.6 293.61H1904v4.6H1863.6ZM1837.1 299.36H1904v4.6H1837.1ZM1834.6 305.11H1904v4.6H1834.6ZM1823.5 310.86H1904v4.6H1823.5ZM1832.8 316.62H1904v4.6H1832.8ZM1842.4 322.37H1904v4.6H1842.4ZM1820.3 328.12H1904v4.6H1820.3ZM1830.5 333.87H1904v4.6H1830.5ZM1834.9 339.62H1904v4.6H1834.9ZM1832.8 345.38H1904v4.6H1832.8ZM1831.1 351.13H1904v4.6H1831.1ZM1824 362.63H1904v4.6H1824ZM1839 368.38H1904v4.6H1839ZM1840.8 374.14H1904v4.6H1840.8ZM1831.4 379.89H1904v4.6H1831.4ZM1837.9 385.64H1904v4.6H1837.9ZM1831.8 391.39H1904v4.6H1831.8ZM1833.2 397.14H1904v4.6H1833.2ZM1851.6 402.9H1904v4.6H1851.6ZM1857.6 408.65H1904v4.6H1857.6ZM1828.2 414.4H1904v4.6H1828.2ZM1865.9 420.15H1904v4.6H1865.9ZM1865 425.9H1904v4.6H1865ZM1884.1 431.66H1904v4.6H1884.1ZM1887.4 437.41H1904v4.6H1887.4ZM1893.6 443.16H1904v4.6H1893.6ZM1890.6 448.91H1904v4.6H1890.6ZM1896.4 454.66H1904v4.6H1896.4ZM1883 460.42H1904v4.6H1883ZM1878.6 466.17H1904v4.6H1878.6ZM1880.5 471.92H1904v4.6H1880.5ZM1865.7 477.67H1904v4.6H1865.7ZM1869.9 483.42H1904v4.6H1869.9ZM1882.1 489.18H1904v4.6H1882.1ZM1873.3 494.93H1904v4.6H1873.3ZM1882.3 500.68H1904v4.6H1882.3Z" fill="#1e6e1c"/>
<path d="M1860.6 512.18H1884.4v4.6H1860.6ZM1855.1 517.94H1878.2v4.6H1855.1ZM1845.9 523.69H1872.9v4.6H1845.9ZM1828 529.44H1867.1v4.6H1828ZM1863 535.19H1884.4v4.6H1863ZM1849.1 540.94H1880v4.6H1849.1ZM1859 546.7H1878.2v4.6H1859ZM1874.2 552.45H1893.6v4.6H1874.2ZM1875.6 558.2H1886.2v4.6H1875.6ZM1879.1 563.95H1895.9v4.6H1879.1ZM1886.5 569.7H1892.7v4.6H1886.5ZM1886.7 575.46H1892.9v4.6H1886.7ZM1880 581.21H1891.1v4.6H1880ZM1877.9 586.96H1890.8v4.6H1877.9ZM1871.9 592.71H1884.8v4.6H1871.9ZM1861.1 598.46H1882.7v4.6H1861.1ZM1886 604.22H1891.7v4.6H1886ZM1848 609.97H1868.2v4.6H1848ZM1837.9 615.72H1866.9v4.6H1837.9ZM1846.1 621.47H1877.4v4.6H1846.1ZM1854.7 627.22H1879.1v4.6H1854.7ZM1859 632.98H1882.1v4.6H1859ZM1861.6 638.73H1878.8v4.6H1861.6ZM1837.1 644.48H1859v4.6H1837.1ZM1872.2 650.23H1891v4.6H1872.2ZM1873.1 655.98H1887.4v4.6H1873.1ZM1874.7 661.74H1888v4.6H1874.7ZM1872 667.49H1883v4.6H1872ZM1859.3 673.24H1877.9v4.6H1859.3ZM1863.6 678.99H1881.9v4.6H1863.6ZM1864.3 684.74H1883v4.6H1864.3ZM1861.8 690.5H1888.8v4.6H1861.8ZM1853 696.25H1880v4.6H1853ZM1870.3 702H1894.1v4.6H1870.3ZM1885.1 707.75H1896.1v4.6H1885.1ZM1895.9 713.5H1899.6v4.6H1895.9ZM1900 719.26H1902.1v4.6H1900ZM1897 725.01H1899.8v4.6H1897ZM1885.1 730.76H1892.9v4.6H1885.1ZM1886 736.51H1894.3v4.6H1886ZM1887.2 742.26H1894.7v4.6H1887.2ZM1880 748.02H1890.1v4.6H1880ZM1879.1 753.77H1891.3v4.6H1879.1ZM1879.3 759.52H1890.8v4.6H1879.3ZM1874.3 765.27H1886.2v4.6H1874.3ZM1863.6 771.02H1882.5v4.6H1863.6ZM1872 776.78H1888.3v4.6H1872ZM1863.6 782.53H1884.6v4.6H1863.6ZM1865.7 788.28H1891.1v4.6H1865.7ZM1885.1 794.03H1895.9v4.6H1885.1ZM1891 799.78H1897.7v4.6H1891ZM1886 805.54H1894.1v4.6H1886ZM1888.8 811.29H1899.8v4.6H1888.8ZM1901.2 817.04H1904v4.6H1901.2Z" fill="#862f2f" fill-opacity="0.7"/>
<path d="M1900.3 190.07H1904v4.6H1900.3ZM1899.4 195.82H1904v4.6H1899.4ZM1884.4 512.18H1904v4.6H1884.4ZM1878.2 517.94H1904v4.6H1878.2ZM1872.9 523.69H1904v4.6H1872.9ZM1867.1 529.44H1904v4.6H1867.1ZM1884.4 535.19H1904v4.6H1884.4ZM1880 540.94H1904v4.6H1880ZM1878.2 546.7H1904v4.6H1878.2ZM1893.6 552.45H1904v4.6H1893.6ZM1886.2 558.2H1904v4.6H1886.2ZM1895.9 563.95H1904v4.6H1895.9ZM1892.7 569.7H1904v4.6H1892.7ZM1892.9 575.46H1904v4.6H1892.9ZM1891.1 581.21H1904v4.6H1891.1ZM1890.8 586.96H1904v4.6H1890.8ZM1884.8 592.71H1904v4.6H1884.8ZM1882.7 598.46H1904v4.6H1882.7ZM1891.7 604.22H1904v4.6H1891.7ZM1868.2 609.97H1904v4.6H1868.2ZM1866.9 615.72H1904v4.6H1866.9ZM1877.4 621.47H1904v4.6H1877.4ZM1879.1 627.22H1904v4.6H1879.1ZM1882.1 632.98H1904v4.6H1882.1ZM1878.8 638.73H1904v4.6H1878.8ZM1859 644.48H1904v4.6H1859ZM1891 650.23H1904v4.6H1891ZM1887.4 655.98H1904v4.6H1887.4ZM1888 661.74H1904v4.6H1888ZM1883 667.49H1904v4.6H1883ZM1877.9 673.24H1904v4.6H1877.9ZM1881.9 678.99H1904v4.6H1881.9ZM1883 684.74H1904v4.6H1883ZM1888.8 690.5H1904v4.6H1888.8ZM1880 696.25H1904v4.6H1880ZM1894.1 702H1904v4.6H1894.1ZM1896.1 707.75H1904v4.6H1896.1ZM1899.6 713.5H1904v4.6H1899.6ZM1902.1 719.26H1904v4.6H1902.1ZM1899.8 725.01H1904v4.6H1899.8ZM1892.9 730.76H1904v4.6H1892.9ZM1894.3 736.51H1904v4.6H1894.3ZM1894.7 742.26H1904v4.6H1894.7ZM1890.1 748.02H1904v4.6H1890.1ZM1891.3 753.77H1904v4.6H1891.3ZM1890.8 759.52H1904v4.6H1890.8ZM1886.2 765.27H1904v4.6H1886.2ZM1882.5 771.02H1904v4.6H1882.5ZM1888.3 776.78H1904v4.6H1888.3ZM1884.6 782.53H1904v4.6H1884.6ZM1891.1 788.28H1904v4.6H1891.1ZM1895.9 794.03H1904v4.6H1895.9ZM1897.7 799.78H1904v4.6H1897.7ZM1894.1 805.54H1904v4.6H1894.1ZM1899.8 811.29H1904v4.6H1899.8Z" fill="#53631b" fill-opacity="0.7"/>
<rect x="1882.3" y="201.5" width="8.7" height="5" fill="#4163c0"/>
<rect x="1891" y="201.5" width="5.3" height="5" fill="#f0463a"/>
<rect x="1896.3" y="201.5" width="7.7" height="5" fill="#27a327"/>
<text x="1886.65" y="205.7" font-size="4.6" font-weight="bold" fill="#fff" text-anchor="middle">VAH</text>
<rect x="1715.1" y="356.9" width="8.9" height="5" fill="#d9ae3e"/>
<rect x="1724" y="356.9" width="72.4" height="5" fill="#f0463a"/>
<rect x="1796.4" y="356.9" width="107.6" height="5" fill="#27a327"/>
<text x="1719.55" y="361.1" font-size="4.6" font-weight="bold" fill="#fff" text-anchor="middle">POC</text>
<rect x="1874.7" y="506.4" width="8.3" height="5" fill="#b03aa6"/>
<rect x="1883" y="506.4" width="7.8" height="5" fill="#f0463a"/>
<rect x="1890.8" y="506.4" width="13.2" height="5" fill="#27a327"/>
<text x="1878.85" y="510.6" font-size="4.6" font-weight="bold" fill="#fff" text-anchor="middle">VAL</text>
</g>
<g id="markers">
<g transform="translate(71 897.4)"><circle r="8.5" fill="#1b1e38"/><circle r="8" fill="url(#gr)"/><use href="#i-meteor" fill="#f4473a"/></g>
<g transform="translate(192 897.4)"><circle r="8.5" fill="#1b1e38"/><circle r="8" fill="url(#gg)"/><use href="#i-down" fill="#27a51f"/></g>
<g transform="translate(313 897.4)"><circle r="8.5" fill="#1b1e38"/><circle r="8" fill="url(#gr)"/><use href="#i-layers" fill="#f4473a"/></g>
<g transform="translate(353 897.4)"><circle r="8.5" fill="#1b1e38"/><circle r="8" fill="url(#gr)"/><use href="#i-up" fill="#f4473a"/></g>
<g transform="translate(433 897.4)"><circle r="8.5" fill="#1b1e38"/><circle r="8" fill="url(#gr)"/><use href="#i-meteor" fill="#f4473a"/></g>
<g transform="translate(755 897.4)"><circle r="8.5" fill="#1b1e38"/><circle r="8" fill="url(#gg)"/><use href="#i-down" fill="#27a51f"/></g>
<g transform="translate(876 897.4)"><circle r="8.5" fill="#1b1e38"/><circle r="8" fill="url(#gg)"/><use href="#i-down" fill="#27a51f"/></g>
<g transform="translate(957 897.4)"><circle r="8.5" fill="#1b1e38"/><circle r="8" fill="url(#gg)"/><use href="#i-meteor" fill="#27a51f" transform="scale(-1,1)"/></g>
<g transform="translate(997 897.4)"><circle r="8.5" fill="#1b1e38"/><circle r="8" fill="url(#gr)"/><use href="#i-meteor" fill="#f4473a"/></g>
<g transform="translate(1037 897.4)"><circle r="8.5" fill="#1b1e38"/><circle r="8" fill="url(#gg)"/><use href="#i-layers2" fill="#27a51f"/></g>
<g transform="translate(1118 897.4)"><circle r="8.5" fill="#1b1e38"/><circle r="8" fill="url(#gg)"/><use href="#i-down" fill="#27a51f"/></g>
<g transform="translate(1198 897.4)"><circle r="8.5" fill="#1b1e38"/><circle r="8" fill="url(#gr)"/><use href="#i-layers" fill="#f4473a"/></g>
<g transform="translate(1239 897.4)"><circle r="8.5" fill="#1b1e38"/><circle r="8" fill="url(#gr)"/><use href="#i-layers" fill="#f4473a"/></g>
<g transform="translate(1279 897.4)"><circle r="8.5" fill="#1b1e38"/><circle r="8" fill="url(#gr)"/><use href="#i-arrow" fill="#f4473a"/></g>
<g transform="translate(1359 897.4)"><circle r="8.5" fill="#1b1e38"/><circle r="8" fill="url(#gg)"/><use href="#i-down" fill="#27a51f"/></g>
<g transform="translate(1480 897.4)"><circle r="8.5" fill="#1b1e38"/><circle r="8" fill="url(#gr)"/><use href="#i-layers" fill="#f4473a"/></g>
</g>
</svg>
<div id="tools"><div><svg width="15" height="15" viewBox="0 0 15 15"><path d="M5.5 3.5L9.7 7.7L5.5 11.9" fill="none" stroke="#c8c9d2" stroke-width="1.1"/></svg></div><div><span>?</span></div></div>
<div id="btabs"><div class="a">信号点</div><div class="b">Cum Delta</div></div>
</div>
</body>
</html>
